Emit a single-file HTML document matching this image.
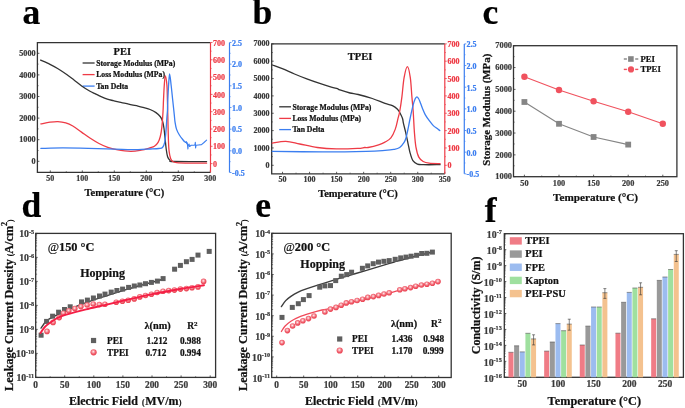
<!DOCTYPE html>
<html><head><meta charset="utf-8"><style>
html,body{margin:0;padding:0;background:#fff;width:685px;height:408px;overflow:hidden;}
svg{display:block;filter:blur(0.35px);}
text{font-family:"Liberation Serif",serif;font-weight:bold;}
</style></head><body>
<svg width="685" height="408" viewBox="0 0 685 408">
<defs><radialGradient id="sph" cx="0.45" cy="0.4" r="0.6"><stop offset="0" stop-color="#fff2f2"/><stop offset="0.3" stop-color="#f7a2aa"/><stop offset="0.65" stop-color="#f05a68"/><stop offset="1" stop-color="#e8404f"/></radialGradient></defs>
<rect width="685" height="408" fill="#fff"/>
<text x="22.60" y="24.40" font-size="35.5" text-anchor="start" fill="#000" stroke="#000" stroke-width="0.22" >a</text>
<text x="252.60" y="24.40" font-size="35.5" text-anchor="start" fill="#000" stroke="#000" stroke-width="0.22" >b</text>
<text x="482.50" y="24.40" font-size="35.5" text-anchor="start" fill="#000" stroke="#000" stroke-width="0.22" >c</text>
<text x="21.50" y="216.90" font-size="35.5" text-anchor="start" fill="#000" stroke="#000" stroke-width="0.22" >d</text>
<text x="255.30" y="217.30" font-size="35.5" text-anchor="start" fill="#000" stroke="#000" stroke-width="0.22" >e</text>
<text x="484.80" y="221.70" font-size="35.5" text-anchor="start" fill="#000" stroke="#000" stroke-width="0.22" >f</text>
<path d="M210.50,42.60 H37.40 V172.40 H210.50" fill="none" stroke="#333" stroke-width="1.3" stroke-linejoin="miter"/>
<line x1="37.40" y1="161.30" x2="39.40" y2="161.30" stroke="#333" stroke-width="0.8" />
<text x="35.60" y="163.98" font-size="8.2" text-anchor="end" fill="#3a3a3a" stroke="#3a3a3a" stroke-width="0.22" >0</text>
<line x1="37.40" y1="139.70" x2="39.40" y2="139.70" stroke="#333" stroke-width="0.8" />
<text x="35.60" y="142.38" font-size="8.2" text-anchor="end" fill="#3a3a3a" stroke="#3a3a3a" stroke-width="0.22" >1000</text>
<line x1="37.40" y1="118.10" x2="39.40" y2="118.10" stroke="#333" stroke-width="0.8" />
<text x="35.60" y="120.78" font-size="8.2" text-anchor="end" fill="#3a3a3a" stroke="#3a3a3a" stroke-width="0.22" >2000</text>
<line x1="37.40" y1="96.50" x2="39.40" y2="96.50" stroke="#333" stroke-width="0.8" />
<text x="35.60" y="99.18" font-size="8.2" text-anchor="end" fill="#3a3a3a" stroke="#3a3a3a" stroke-width="0.22" >3000</text>
<line x1="37.40" y1="74.90" x2="39.40" y2="74.90" stroke="#333" stroke-width="0.8" />
<text x="35.60" y="77.58" font-size="8.2" text-anchor="end" fill="#3a3a3a" stroke="#3a3a3a" stroke-width="0.22" >4000</text>
<line x1="37.40" y1="53.30" x2="39.40" y2="53.30" stroke="#333" stroke-width="0.8" />
<text x="35.60" y="55.98" font-size="8.2" text-anchor="end" fill="#3a3a3a" stroke="#3a3a3a" stroke-width="0.22" >5000</text>
<line x1="37.40" y1="150.50" x2="38.60" y2="150.50" stroke="#333" stroke-width="0.6" />
<line x1="37.40" y1="128.90" x2="38.60" y2="128.90" stroke="#333" stroke-width="0.6" />
<line x1="37.40" y1="107.30" x2="38.60" y2="107.30" stroke="#333" stroke-width="0.6" />
<line x1="37.40" y1="85.70" x2="38.60" y2="85.70" stroke="#333" stroke-width="0.6" />
<line x1="37.40" y1="64.10" x2="38.60" y2="64.10" stroke="#333" stroke-width="0.6" />
<line x1="50.30" y1="172.40" x2="50.30" y2="170.40" stroke="#333" stroke-width="0.8" />
<text x="50.30" y="181.20" font-size="8" text-anchor="middle" fill="#3a3a3a" stroke="#3a3a3a" stroke-width="0.22" >50</text>
<line x1="82.30" y1="172.40" x2="82.30" y2="170.40" stroke="#333" stroke-width="0.8" />
<text x="82.30" y="181.20" font-size="8" text-anchor="middle" fill="#3a3a3a" stroke="#3a3a3a" stroke-width="0.22" >100</text>
<line x1="114.30" y1="172.40" x2="114.30" y2="170.40" stroke="#333" stroke-width="0.8" />
<text x="114.30" y="181.20" font-size="8" text-anchor="middle" fill="#3a3a3a" stroke="#3a3a3a" stroke-width="0.22" >150</text>
<line x1="146.30" y1="172.40" x2="146.30" y2="170.40" stroke="#333" stroke-width="0.8" />
<text x="146.30" y="181.20" font-size="8" text-anchor="middle" fill="#3a3a3a" stroke="#3a3a3a" stroke-width="0.22" >200</text>
<line x1="178.30" y1="172.40" x2="178.30" y2="170.40" stroke="#333" stroke-width="0.8" />
<text x="178.30" y="181.20" font-size="8" text-anchor="middle" fill="#3a3a3a" stroke="#3a3a3a" stroke-width="0.22" >250</text>
<line x1="210.30" y1="172.40" x2="210.30" y2="170.40" stroke="#333" stroke-width="0.8" />
<text x="210.30" y="181.20" font-size="8" text-anchor="middle" fill="#3a3a3a" stroke="#3a3a3a" stroke-width="0.22" >300</text>
<line x1="66.30" y1="172.40" x2="66.30" y2="171.20" stroke="#333" stroke-width="0.6" />
<line x1="98.30" y1="172.40" x2="98.30" y2="171.20" stroke="#333" stroke-width="0.6" />
<line x1="130.30" y1="172.40" x2="130.30" y2="171.20" stroke="#333" stroke-width="0.6" />
<line x1="162.30" y1="172.40" x2="162.30" y2="171.20" stroke="#333" stroke-width="0.6" />
<line x1="194.30" y1="172.40" x2="194.30" y2="171.20" stroke="#333" stroke-width="0.6" />
<line x1="210.50" y1="42.60" x2="210.50" y2="172.40" stroke="#ee3b46" stroke-width="1.2" />
<line x1="210.50" y1="163.60" x2="212.50" y2="163.60" stroke="#ee3b46" stroke-width="0.8" />
<text x="213.00" y="166.72" font-size="8" text-anchor="start" fill="#ee3b46" stroke="#ee3b46" stroke-width="0.22" >0</text>
<line x1="210.50" y1="154.95" x2="211.70" y2="154.95" stroke="#ee3b46" stroke-width="0.6" />
<line x1="210.50" y1="146.30" x2="212.50" y2="146.30" stroke="#ee3b46" stroke-width="0.8" />
<text x="213.00" y="149.42" font-size="8" text-anchor="start" fill="#ee3b46" stroke="#ee3b46" stroke-width="0.22" >100</text>
<line x1="210.50" y1="137.65" x2="211.70" y2="137.65" stroke="#ee3b46" stroke-width="0.6" />
<line x1="210.50" y1="129.00" x2="212.50" y2="129.00" stroke="#ee3b46" stroke-width="0.8" />
<text x="213.00" y="132.12" font-size="8" text-anchor="start" fill="#ee3b46" stroke="#ee3b46" stroke-width="0.22" >200</text>
<line x1="210.50" y1="120.35" x2="211.70" y2="120.35" stroke="#ee3b46" stroke-width="0.6" />
<line x1="210.50" y1="111.70" x2="212.50" y2="111.70" stroke="#ee3b46" stroke-width="0.8" />
<text x="213.00" y="114.82" font-size="8" text-anchor="start" fill="#ee3b46" stroke="#ee3b46" stroke-width="0.22" >300</text>
<line x1="210.50" y1="103.05" x2="211.70" y2="103.05" stroke="#ee3b46" stroke-width="0.6" />
<line x1="210.50" y1="94.40" x2="212.50" y2="94.40" stroke="#ee3b46" stroke-width="0.8" />
<text x="213.00" y="97.52" font-size="8" text-anchor="start" fill="#ee3b46" stroke="#ee3b46" stroke-width="0.22" >400</text>
<line x1="210.50" y1="85.75" x2="211.70" y2="85.75" stroke="#ee3b46" stroke-width="0.6" />
<line x1="210.50" y1="77.10" x2="212.50" y2="77.10" stroke="#ee3b46" stroke-width="0.8" />
<text x="213.00" y="80.22" font-size="8" text-anchor="start" fill="#ee3b46" stroke="#ee3b46" stroke-width="0.22" >500</text>
<line x1="210.50" y1="68.45" x2="211.70" y2="68.45" stroke="#ee3b46" stroke-width="0.6" />
<line x1="210.50" y1="59.80" x2="212.50" y2="59.80" stroke="#ee3b46" stroke-width="0.8" />
<text x="213.00" y="62.92" font-size="8" text-anchor="start" fill="#ee3b46" stroke="#ee3b46" stroke-width="0.22" >600</text>
<line x1="210.50" y1="51.15" x2="211.70" y2="51.15" stroke="#ee3b46" stroke-width="0.6" />
<line x1="210.50" y1="42.50" x2="212.50" y2="42.50" stroke="#ee3b46" stroke-width="0.8" />
<text x="213.00" y="45.62" font-size="8" text-anchor="start" fill="#ee3b46" stroke="#ee3b46" stroke-width="0.22" >700</text>
<line x1="229.50" y1="42.60" x2="229.50" y2="172.40" stroke="#3b7ef0" stroke-width="1.2" />
<line x1="229.50" y1="172.50" x2="231.50" y2="172.50" stroke="#3b7ef0" stroke-width="0.8" />
<text x="232.00" y="175.62" font-size="8" text-anchor="start" fill="#3b7ef0" stroke="#3b7ef0" stroke-width="0.22" >-0.5</text>
<line x1="229.50" y1="161.67" x2="230.70" y2="161.67" stroke="#3b7ef0" stroke-width="0.6" />
<line x1="229.50" y1="150.83" x2="231.50" y2="150.83" stroke="#3b7ef0" stroke-width="0.8" />
<text x="232.00" y="153.95" font-size="8" text-anchor="start" fill="#3b7ef0" stroke="#3b7ef0" stroke-width="0.22" >0.0</text>
<line x1="229.50" y1="140.00" x2="230.70" y2="140.00" stroke="#3b7ef0" stroke-width="0.6" />
<line x1="229.50" y1="129.16" x2="231.50" y2="129.16" stroke="#3b7ef0" stroke-width="0.8" />
<text x="232.00" y="132.28" font-size="8" text-anchor="start" fill="#3b7ef0" stroke="#3b7ef0" stroke-width="0.22" >0.5</text>
<line x1="229.50" y1="118.33" x2="230.70" y2="118.33" stroke="#3b7ef0" stroke-width="0.6" />
<line x1="229.50" y1="107.49" x2="231.50" y2="107.49" stroke="#3b7ef0" stroke-width="0.8" />
<text x="232.00" y="110.61" font-size="8" text-anchor="start" fill="#3b7ef0" stroke="#3b7ef0" stroke-width="0.22" >1.0</text>
<line x1="229.50" y1="96.66" x2="230.70" y2="96.66" stroke="#3b7ef0" stroke-width="0.6" />
<line x1="229.50" y1="85.82" x2="231.50" y2="85.82" stroke="#3b7ef0" stroke-width="0.8" />
<text x="232.00" y="88.94" font-size="8" text-anchor="start" fill="#3b7ef0" stroke="#3b7ef0" stroke-width="0.22" >1.5</text>
<line x1="229.50" y1="74.99" x2="230.70" y2="74.99" stroke="#3b7ef0" stroke-width="0.6" />
<line x1="229.50" y1="64.15" x2="231.50" y2="64.15" stroke="#3b7ef0" stroke-width="0.8" />
<text x="232.00" y="67.27" font-size="8" text-anchor="start" fill="#3b7ef0" stroke="#3b7ef0" stroke-width="0.22" >2.0</text>
<line x1="229.50" y1="53.32" x2="230.70" y2="53.32" stroke="#3b7ef0" stroke-width="0.6" />
<line x1="229.50" y1="42.48" x2="231.50" y2="42.48" stroke="#3b7ef0" stroke-width="0.8" />
<text x="232.00" y="45.60" font-size="8" text-anchor="start" fill="#3b7ef0" stroke="#3b7ef0" stroke-width="0.22" >2.5</text>
<text x="113.60" y="54.60" font-size="10.5" text-anchor="start" fill="#111" stroke="#111" stroke-width="0.22" >PEI</text>
<line x1="82.60" y1="63.00" x2="94.60" y2="63.00" stroke="#333" stroke-width="1.3" />
<text x="96.20" y="65.70" font-size="7.7" text-anchor="start" fill="#111" stroke="#111" stroke-width="0.22" >Storage Modulus (MPa)</text>
<line x1="82.60" y1="74.60" x2="94.60" y2="74.60" stroke="#ee3b46" stroke-width="1.3" />
<text x="96.20" y="77.30" font-size="7.7" text-anchor="start" fill="#111" stroke="#111" stroke-width="0.22" >Loss Modulus (MPa)</text>
<line x1="82.60" y1="86.10" x2="94.60" y2="86.10" stroke="#3b7ef0" stroke-width="1.3" />
<text x="96.20" y="88.80" font-size="7.7" text-anchor="start" fill="#111" stroke="#111" stroke-width="0.22" >Tan Delta</text>
<text x="124.40" y="196.00" font-size="10.5" text-anchor="middle" fill="#111" stroke="#111" stroke-width="0.22" >Temperature (°C)</text>
<path d="M40.60,60.10 C42.17,60.80 47.10,62.87 50.00,64.30 C52.90,65.73 55.22,67.00 58.00,68.70 C60.78,70.40 64.03,72.62 66.70,74.50 C69.37,76.38 71.45,78.05 74.00,80.00 C76.55,81.95 79.33,84.33 82.00,86.20 C84.67,88.07 87.83,89.97 90.00,91.20 C92.17,92.43 93.15,92.70 95.00,93.60 C96.85,94.50 99.05,95.68 101.10,96.60 C103.15,97.52 105.25,98.42 107.30,99.10 C109.35,99.78 111.37,100.18 113.40,100.70 C115.43,101.22 117.47,101.75 119.50,102.20 C121.53,102.65 123.55,102.95 125.60,103.40 C127.65,103.85 129.75,104.45 131.80,104.90 C133.85,105.35 135.87,105.63 137.90,106.10 C139.93,106.57 141.97,107.13 144.00,107.70 C146.03,108.27 148.10,108.68 150.10,109.50 C152.10,110.32 154.32,111.43 156.00,112.60 C157.68,113.77 159.12,115.10 160.20,116.50 C161.28,117.90 161.87,119.00 162.50,121.00 C163.13,123.00 163.57,125.58 164.00,128.50 C164.43,131.42 164.73,135.08 165.10,138.50 C165.47,141.92 165.78,145.95 166.20,149.00 C166.62,152.05 166.98,154.92 167.60,156.80 C168.22,158.68 168.92,159.52 169.90,160.30 C170.88,161.08 167.38,161.28 173.50,161.50 C179.62,161.72 201.08,161.58 206.60,161.60" fill="none" stroke="#333" stroke-width="1.3" stroke-linejoin="round" stroke-linecap="round" />
<path d="M40.90,123.90 C42.42,123.62 47.17,122.58 50.00,122.20 C52.83,121.82 55.27,121.48 57.90,121.60 C60.53,121.72 63.32,122.17 65.80,122.90 C68.28,123.63 70.18,124.47 72.80,126.00 C75.42,127.53 78.58,130.05 81.50,132.10 C84.42,134.15 87.38,136.40 90.30,138.30 C93.22,140.20 96.08,141.98 99.00,143.50 C101.92,145.02 104.87,146.37 107.80,147.40 C110.73,148.43 112.80,149.03 116.60,149.70 C120.40,150.37 126.52,151.32 130.60,151.40 C134.68,151.48 137.90,150.78 141.10,150.20 C144.30,149.62 147.58,148.55 149.80,147.90 C152.02,147.25 153.02,147.22 154.40,146.30 C155.78,145.38 157.12,144.03 158.10,142.40 C159.08,140.77 159.68,138.97 160.30,136.50 C160.92,134.03 161.35,131.68 161.80,127.60 C162.25,123.52 162.72,116.60 163.00,112.00 C163.28,107.40 163.28,104.50 163.50,100.00 C163.72,95.50 164.00,89.03 164.30,85.00 C164.60,80.97 164.87,75.80 165.30,75.80 C165.73,75.80 166.55,80.97 166.90,85.00 C167.25,89.03 167.25,95.00 167.40,100.00 C167.55,105.00 167.63,108.43 167.80,115.00 C167.97,121.57 168.18,133.37 168.40,139.40 C168.62,145.43 168.73,148.02 169.10,151.20 C169.47,154.38 169.98,156.78 170.60,158.50 C171.22,160.22 171.82,160.82 172.80,161.50 C173.78,162.18 173.63,162.33 176.50,162.60 C179.37,162.87 184.98,163.00 190.00,163.10 C195.02,163.20 203.83,163.18 206.60,163.20" fill="none" stroke="#ee3b46" stroke-width="1.3" stroke-linejoin="round" stroke-linecap="round" />
<path d="M40.90,148.40 C44.47,148.32 54.37,147.92 62.30,147.90 C70.23,147.88 79.75,148.10 88.50,148.30 C97.25,148.50 107.50,148.87 114.80,149.10 C122.10,149.33 126.43,149.72 132.30,149.70 C138.17,149.68 145.58,149.20 150.00,149.00 C154.42,148.80 156.72,148.75 158.80,148.50 C160.88,148.25 161.52,148.52 162.50,147.50 C163.48,146.48 164.13,144.98 164.70,142.40 C165.27,139.82 165.53,136.17 165.90,132.00 C166.27,127.83 166.63,121.07 166.90,117.40 C167.17,113.73 167.35,112.90 167.50,110.00 C167.65,107.10 167.62,104.17 167.80,100.00 C167.98,95.83 168.30,89.37 168.60,85.00 C168.90,80.63 169.18,73.80 169.60,73.80 C170.02,73.80 170.58,80.63 171.10,85.00 C171.62,89.37 172.17,95.00 172.70,100.00 C173.23,105.00 173.92,111.37 174.30,115.00 C174.68,118.63 174.63,119.45 175.00,121.80 C175.37,124.15 175.77,126.90 176.50,129.10 C177.23,131.30 178.18,133.03 179.40,135.00 C180.62,136.97 183.07,139.92 183.80,140.90" fill="none" stroke="#3b7ef0" stroke-width="1.3" stroke-linejoin="round" stroke-linecap="round" />
<path d="M183.80,140.90 L185.50,142.50 L186.20,141.50 L186.80,143.80 L187.30,142.80 L187.90,149.00 L188.20,145.30 L189.00,144.00 L189.60,146.50 L191.20,145.30 L194.10,145.30 L195.00,144.80 L195.30,142.40 L195.60,148.00 L196.00,145.30 L198.50,145.00 L201.50,144.60 L204.00,142.50 L206.60,140.10" fill="none" stroke="#3b7ef0" stroke-width="1.1" stroke-linejoin="round" stroke-linecap="round" />
<path d="M444.80,43.90 H271.70 V173.80 H444.80" fill="none" stroke="#333" stroke-width="1.3" stroke-linejoin="miter"/>
<line x1="271.70" y1="165.30" x2="273.70" y2="165.30" stroke="#333" stroke-width="0.8" />
<text x="269.60" y="167.92" font-size="8" text-anchor="end" fill="#3a3a3a" stroke="#3a3a3a" stroke-width="0.22" >0</text>
<line x1="271.70" y1="156.62" x2="272.90" y2="156.62" stroke="#333" stroke-width="0.6" />
<line x1="271.70" y1="147.95" x2="273.70" y2="147.95" stroke="#333" stroke-width="0.8" />
<text x="269.60" y="150.57" font-size="8" text-anchor="end" fill="#3a3a3a" stroke="#3a3a3a" stroke-width="0.22" >1000</text>
<line x1="271.70" y1="139.28" x2="272.90" y2="139.28" stroke="#333" stroke-width="0.6" />
<line x1="271.70" y1="130.60" x2="273.70" y2="130.60" stroke="#333" stroke-width="0.8" />
<text x="269.60" y="133.22" font-size="8" text-anchor="end" fill="#3a3a3a" stroke="#3a3a3a" stroke-width="0.22" >2000</text>
<line x1="271.70" y1="121.93" x2="272.90" y2="121.93" stroke="#333" stroke-width="0.6" />
<line x1="271.70" y1="113.25" x2="273.70" y2="113.25" stroke="#333" stroke-width="0.8" />
<text x="269.60" y="115.87" font-size="8" text-anchor="end" fill="#3a3a3a" stroke="#3a3a3a" stroke-width="0.22" >3000</text>
<line x1="271.70" y1="104.58" x2="272.90" y2="104.58" stroke="#333" stroke-width="0.6" />
<line x1="271.70" y1="95.90" x2="273.70" y2="95.90" stroke="#333" stroke-width="0.8" />
<text x="269.60" y="98.52" font-size="8" text-anchor="end" fill="#3a3a3a" stroke="#3a3a3a" stroke-width="0.22" >4000</text>
<line x1="271.70" y1="87.23" x2="272.90" y2="87.23" stroke="#333" stroke-width="0.6" />
<line x1="271.70" y1="78.55" x2="273.70" y2="78.55" stroke="#333" stroke-width="0.8" />
<text x="269.60" y="81.17" font-size="8" text-anchor="end" fill="#3a3a3a" stroke="#3a3a3a" stroke-width="0.22" >5000</text>
<line x1="271.70" y1="69.88" x2="272.90" y2="69.88" stroke="#333" stroke-width="0.6" />
<line x1="271.70" y1="61.20" x2="273.70" y2="61.20" stroke="#333" stroke-width="0.8" />
<text x="269.60" y="63.82" font-size="8" text-anchor="end" fill="#3a3a3a" stroke="#3a3a3a" stroke-width="0.22" >6000</text>
<line x1="271.70" y1="52.53" x2="272.90" y2="52.53" stroke="#333" stroke-width="0.6" />
<line x1="271.70" y1="43.85" x2="273.70" y2="43.85" stroke="#333" stroke-width="0.8" />
<text x="269.60" y="46.47" font-size="8" text-anchor="end" fill="#3a3a3a" stroke="#3a3a3a" stroke-width="0.22" >7000</text>
<line x1="282.52" y1="173.80" x2="282.52" y2="171.80" stroke="#333" stroke-width="0.8" />
<text x="282.52" y="182.00" font-size="8" text-anchor="middle" fill="#3a3a3a" stroke="#3a3a3a" stroke-width="0.22" >50</text>
<line x1="309.56" y1="173.80" x2="309.56" y2="171.80" stroke="#333" stroke-width="0.8" />
<text x="309.56" y="182.00" font-size="8" text-anchor="middle" fill="#3a3a3a" stroke="#3a3a3a" stroke-width="0.22" >100</text>
<line x1="336.61" y1="173.80" x2="336.61" y2="171.80" stroke="#333" stroke-width="0.8" />
<text x="336.61" y="182.00" font-size="8" text-anchor="middle" fill="#3a3a3a" stroke="#3a3a3a" stroke-width="0.22" >150</text>
<line x1="363.65" y1="173.80" x2="363.65" y2="171.80" stroke="#333" stroke-width="0.8" />
<text x="363.65" y="182.00" font-size="8" text-anchor="middle" fill="#3a3a3a" stroke="#3a3a3a" stroke-width="0.22" >200</text>
<line x1="390.70" y1="173.80" x2="390.70" y2="171.80" stroke="#333" stroke-width="0.8" />
<text x="390.70" y="182.00" font-size="8" text-anchor="middle" fill="#3a3a3a" stroke="#3a3a3a" stroke-width="0.22" >250</text>
<line x1="417.74" y1="173.80" x2="417.74" y2="171.80" stroke="#333" stroke-width="0.8" />
<text x="417.74" y="182.00" font-size="8" text-anchor="middle" fill="#3a3a3a" stroke="#3a3a3a" stroke-width="0.22" >300</text>
<line x1="444.79" y1="173.80" x2="444.79" y2="171.80" stroke="#333" stroke-width="0.8" />
<text x="444.79" y="182.00" font-size="8" text-anchor="middle" fill="#3a3a3a" stroke="#3a3a3a" stroke-width="0.22" >350</text>
<line x1="296.04" y1="173.80" x2="296.04" y2="172.60" stroke="#333" stroke-width="0.6" />
<line x1="323.09" y1="173.80" x2="323.09" y2="172.60" stroke="#333" stroke-width="0.6" />
<line x1="350.13" y1="173.80" x2="350.13" y2="172.60" stroke="#333" stroke-width="0.6" />
<line x1="377.18" y1="173.80" x2="377.18" y2="172.60" stroke="#333" stroke-width="0.6" />
<line x1="404.22" y1="173.80" x2="404.22" y2="172.60" stroke="#333" stroke-width="0.6" />
<line x1="431.27" y1="173.80" x2="431.27" y2="172.60" stroke="#333" stroke-width="0.6" />
<line x1="444.80" y1="43.90" x2="444.80" y2="173.80" stroke="#ee3b46" stroke-width="1.2" />
<line x1="444.80" y1="165.30" x2="446.80" y2="165.30" stroke="#ee3b46" stroke-width="0.8" />
<text x="447.40" y="168.42" font-size="8" text-anchor="start" fill="#ee3b46" stroke="#ee3b46" stroke-width="0.22" >0</text>
<line x1="444.80" y1="156.62" x2="446.00" y2="156.62" stroke="#ee3b46" stroke-width="0.6" />
<line x1="444.80" y1="147.95" x2="446.80" y2="147.95" stroke="#ee3b46" stroke-width="0.8" />
<text x="447.40" y="151.07" font-size="8" text-anchor="start" fill="#ee3b46" stroke="#ee3b46" stroke-width="0.22" >100</text>
<line x1="444.80" y1="139.28" x2="446.00" y2="139.28" stroke="#ee3b46" stroke-width="0.6" />
<line x1="444.80" y1="130.60" x2="446.80" y2="130.60" stroke="#ee3b46" stroke-width="0.8" />
<text x="447.40" y="133.72" font-size="8" text-anchor="start" fill="#ee3b46" stroke="#ee3b46" stroke-width="0.22" >200</text>
<line x1="444.80" y1="121.93" x2="446.00" y2="121.93" stroke="#ee3b46" stroke-width="0.6" />
<line x1="444.80" y1="113.25" x2="446.80" y2="113.25" stroke="#ee3b46" stroke-width="0.8" />
<text x="447.40" y="116.37" font-size="8" text-anchor="start" fill="#ee3b46" stroke="#ee3b46" stroke-width="0.22" >300</text>
<line x1="444.80" y1="104.58" x2="446.00" y2="104.58" stroke="#ee3b46" stroke-width="0.6" />
<line x1="444.80" y1="95.90" x2="446.80" y2="95.90" stroke="#ee3b46" stroke-width="0.8" />
<text x="447.40" y="99.02" font-size="8" text-anchor="start" fill="#ee3b46" stroke="#ee3b46" stroke-width="0.22" >400</text>
<line x1="444.80" y1="87.23" x2="446.00" y2="87.23" stroke="#ee3b46" stroke-width="0.6" />
<line x1="444.80" y1="78.55" x2="446.80" y2="78.55" stroke="#ee3b46" stroke-width="0.8" />
<text x="447.40" y="81.67" font-size="8" text-anchor="start" fill="#ee3b46" stroke="#ee3b46" stroke-width="0.22" >500</text>
<line x1="444.80" y1="69.88" x2="446.00" y2="69.88" stroke="#ee3b46" stroke-width="0.6" />
<line x1="444.80" y1="61.20" x2="446.80" y2="61.20" stroke="#ee3b46" stroke-width="0.8" />
<text x="447.40" y="64.32" font-size="8" text-anchor="start" fill="#ee3b46" stroke="#ee3b46" stroke-width="0.22" >600</text>
<line x1="444.80" y1="52.53" x2="446.00" y2="52.53" stroke="#ee3b46" stroke-width="0.6" />
<line x1="444.80" y1="43.85" x2="446.80" y2="43.85" stroke="#ee3b46" stroke-width="0.8" />
<text x="447.40" y="46.97" font-size="8" text-anchor="start" fill="#ee3b46" stroke="#ee3b46" stroke-width="0.22" >700</text>
<line x1="464.30" y1="43.90" x2="464.30" y2="173.80" stroke="#3b7ef0" stroke-width="1.2" />
<line x1="464.30" y1="173.80" x2="466.30" y2="173.80" stroke="#3b7ef0" stroke-width="0.8" />
<text x="466.60" y="177.22" font-size="8" text-anchor="start" fill="#3b7ef0" stroke="#3b7ef0" stroke-width="0.22" >-0.5</text>
<line x1="464.30" y1="162.97" x2="465.50" y2="162.97" stroke="#3b7ef0" stroke-width="0.6" />
<line x1="464.30" y1="152.15" x2="466.30" y2="152.15" stroke="#3b7ef0" stroke-width="0.8" />
<text x="466.60" y="155.57" font-size="8" text-anchor="start" fill="#3b7ef0" stroke="#3b7ef0" stroke-width="0.22" >0.0</text>
<line x1="464.30" y1="141.32" x2="465.50" y2="141.32" stroke="#3b7ef0" stroke-width="0.6" />
<line x1="464.30" y1="130.50" x2="466.30" y2="130.50" stroke="#3b7ef0" stroke-width="0.8" />
<text x="466.60" y="133.92" font-size="8" text-anchor="start" fill="#3b7ef0" stroke="#3b7ef0" stroke-width="0.22" >0.5</text>
<line x1="464.30" y1="119.67" x2="465.50" y2="119.67" stroke="#3b7ef0" stroke-width="0.6" />
<line x1="464.30" y1="108.85" x2="466.30" y2="108.85" stroke="#3b7ef0" stroke-width="0.8" />
<text x="466.60" y="112.27" font-size="8" text-anchor="start" fill="#3b7ef0" stroke="#3b7ef0" stroke-width="0.22" >1.0</text>
<line x1="464.30" y1="98.02" x2="465.50" y2="98.02" stroke="#3b7ef0" stroke-width="0.6" />
<line x1="464.30" y1="87.20" x2="466.30" y2="87.20" stroke="#3b7ef0" stroke-width="0.8" />
<text x="466.60" y="90.62" font-size="8" text-anchor="start" fill="#3b7ef0" stroke="#3b7ef0" stroke-width="0.22" >1.5</text>
<line x1="464.30" y1="76.37" x2="465.50" y2="76.37" stroke="#3b7ef0" stroke-width="0.6" />
<line x1="464.30" y1="65.55" x2="466.30" y2="65.55" stroke="#3b7ef0" stroke-width="0.8" />
<text x="466.60" y="68.97" font-size="8" text-anchor="start" fill="#3b7ef0" stroke="#3b7ef0" stroke-width="0.22" >2.0</text>
<line x1="464.30" y1="54.72" x2="465.50" y2="54.72" stroke="#3b7ef0" stroke-width="0.6" />
<line x1="464.30" y1="43.90" x2="466.30" y2="43.90" stroke="#3b7ef0" stroke-width="0.8" />
<text x="466.60" y="47.32" font-size="8" text-anchor="start" fill="#3b7ef0" stroke="#3b7ef0" stroke-width="0.22" >2.5</text>
<text x="347.80" y="60.20" font-size="10.5" text-anchor="start" fill="#111" stroke="#111" stroke-width="0.22" >TPEI</text>
<line x1="279.20" y1="106.80" x2="291.00" y2="106.80" stroke="#333" stroke-width="1.3" />
<text x="292.40" y="109.50" font-size="7.7" text-anchor="start" fill="#111" stroke="#111" stroke-width="0.22" >Storage Modulus (MPa)</text>
<line x1="279.20" y1="118.40" x2="291.00" y2="118.40" stroke="#ee3b46" stroke-width="1.3" />
<text x="292.40" y="121.10" font-size="7.7" text-anchor="start" fill="#111" stroke="#111" stroke-width="0.22" >Loss Modulus (MPa)</text>
<line x1="279.20" y1="129.60" x2="291.00" y2="129.60" stroke="#3b7ef0" stroke-width="1.3" />
<text x="292.40" y="132.30" font-size="7.7" text-anchor="start" fill="#111" stroke="#111" stroke-width="0.22" >Tan Delta</text>
<text x="358.00" y="197.00" font-size="10.5" text-anchor="middle" fill="#111" stroke="#111" stroke-width="0.22" >Temperature (°C)</text>
<path d="M272.30,65.00 C273.97,65.62 278.60,67.20 282.30,68.70 C286.00,70.20 290.42,72.30 294.50,74.00 C298.58,75.70 302.72,77.37 306.80,78.90 C310.88,80.43 314.92,81.83 319.00,83.20 C323.08,84.57 328.23,86.18 331.30,87.10 C334.37,88.02 335.97,88.23 337.40,88.70 C338.83,89.17 337.80,89.18 339.90,89.90 C342.00,90.62 346.95,92.23 350.00,93.00 C353.05,93.77 354.48,93.58 358.20,94.50 C361.92,95.42 367.83,97.02 372.30,98.50 C376.77,99.98 381.65,102.22 385.00,103.40 C388.35,104.58 390.32,104.62 392.40,105.60 C394.48,106.58 396.17,107.95 397.50,109.30 C398.83,110.65 399.55,112.12 400.40,113.70 C401.25,115.28 402.10,117.22 402.60,118.80 C403.10,120.38 402.90,120.98 403.40,123.20 C403.90,125.42 404.87,128.90 405.60,132.10 C406.33,135.30 407.07,138.98 407.80,142.40 C408.53,145.82 409.15,149.55 410.00,152.60 C410.85,155.65 411.67,158.78 412.90,160.70 C414.13,162.62 415.68,163.43 417.40,164.10 C419.12,164.77 419.42,164.60 423.20,164.70 C426.98,164.80 437.28,164.70 440.10,164.70" fill="none" stroke="#333" stroke-width="1.3" stroke-linejoin="round" stroke-linecap="round" />
<path d="M272.30,143.10 C274.55,142.82 281.22,141.25 285.80,141.40 C290.38,141.55 294.55,142.98 299.80,144.00 C305.05,145.02 311.18,146.68 317.30,147.50 C323.42,148.32 329.78,148.75 336.50,148.90 C343.22,149.05 352.92,148.63 357.60,148.40 C362.28,148.17 362.85,147.65 364.60,147.50 C366.35,147.35 365.77,147.93 368.10,147.50 C370.43,147.07 375.78,145.80 378.60,144.90 C381.42,144.00 382.95,143.27 385.00,142.10 C387.05,140.93 389.18,140.07 390.90,137.90 C392.62,135.73 394.13,132.28 395.30,129.10 C396.47,125.92 397.17,121.73 397.90,118.80 C398.63,115.87 399.03,115.17 399.70,111.50 C400.37,107.83 401.17,102.45 401.90,96.80 C402.63,91.15 403.18,82.63 404.10,77.60 C405.02,72.57 406.37,66.60 407.40,66.60 C408.43,66.60 409.55,72.57 410.30,77.60 C411.05,82.63 411.42,91.15 411.90,96.80 C412.38,102.45 412.78,105.62 413.20,111.50 C413.62,117.38 413.95,126.22 414.40,132.10 C414.85,137.98 415.17,142.63 415.90,146.80 C416.63,150.97 417.58,154.65 418.80,157.10 C420.02,159.55 421.48,160.48 423.20,161.50 C424.92,162.52 426.28,162.83 429.10,163.20 C431.92,163.57 438.27,163.62 440.10,163.70" fill="none" stroke="#ee3b46" stroke-width="1.3" stroke-linejoin="round" stroke-linecap="round" />
<path d="M272.30,151.40 C280.67,151.48 306.83,151.90 322.50,151.90 C338.17,151.90 355.88,151.65 366.30,151.40 C376.72,151.15 380.42,150.73 385.00,150.40 C389.58,150.07 391.35,149.88 393.80,149.40 C396.25,148.92 397.98,148.67 399.70,147.50 C401.42,146.33 403.05,143.98 404.10,142.40 C405.15,140.82 405.40,139.98 406.00,138.00 C406.60,136.02 407.00,133.83 407.70,130.50 C408.40,127.17 409.30,122.22 410.20,118.00 C411.10,113.78 412.27,108.40 413.10,105.20 C413.93,102.00 414.57,100.18 415.20,98.80 C415.83,97.42 416.35,96.95 416.90,96.90 C417.45,96.85 418.02,97.78 418.50,98.50 C418.98,99.22 419.13,99.53 419.80,101.20 C420.47,102.87 421.60,106.27 422.50,108.50 C423.40,110.73 424.07,112.57 425.20,114.60 C426.33,116.63 427.95,118.87 429.30,120.70 C430.65,122.53 431.97,124.28 433.30,125.60 C434.63,126.92 436.22,127.77 437.30,128.60 C438.38,129.43 439.38,130.27 439.80,130.60" fill="none" stroke="#3b7ef0" stroke-width="1.3" stroke-linejoin="round" stroke-linecap="round" />
<rect x="513.50" y="45.70" width="163.40" height="131.00" fill="none" stroke="#333" stroke-width="1.3"/>
<line x1="513.50" y1="176.70" x2="515.50" y2="176.70" stroke="#333" stroke-width="0.8" />
<text x="512.00" y="179.45" font-size="8.4" text-anchor="end" fill="#3a3a3a" stroke="#3a3a3a" stroke-width="0.22" >1000</text>
<line x1="513.50" y1="165.81" x2="514.70" y2="165.81" stroke="#333" stroke-width="0.6" />
<line x1="513.50" y1="154.87" x2="515.50" y2="154.87" stroke="#333" stroke-width="0.8" />
<text x="512.00" y="157.62" font-size="8.4" text-anchor="end" fill="#3a3a3a" stroke="#3a3a3a" stroke-width="0.22" >2000</text>
<line x1="513.50" y1="143.98" x2="514.70" y2="143.98" stroke="#333" stroke-width="0.6" />
<line x1="513.50" y1="133.04" x2="515.50" y2="133.04" stroke="#333" stroke-width="0.8" />
<text x="512.00" y="135.79" font-size="8.4" text-anchor="end" fill="#3a3a3a" stroke="#3a3a3a" stroke-width="0.22" >3000</text>
<line x1="513.50" y1="122.15" x2="514.70" y2="122.15" stroke="#333" stroke-width="0.6" />
<line x1="513.50" y1="111.21" x2="515.50" y2="111.21" stroke="#333" stroke-width="0.8" />
<text x="512.00" y="113.96" font-size="8.4" text-anchor="end" fill="#3a3a3a" stroke="#3a3a3a" stroke-width="0.22" >4000</text>
<line x1="513.50" y1="100.32" x2="514.70" y2="100.32" stroke="#333" stroke-width="0.6" />
<line x1="513.50" y1="89.38" x2="515.50" y2="89.38" stroke="#333" stroke-width="0.8" />
<text x="512.00" y="92.13" font-size="8.4" text-anchor="end" fill="#3a3a3a" stroke="#3a3a3a" stroke-width="0.22" >5000</text>
<line x1="513.50" y1="78.49" x2="514.70" y2="78.49" stroke="#333" stroke-width="0.6" />
<line x1="513.50" y1="67.55" x2="515.50" y2="67.55" stroke="#333" stroke-width="0.8" />
<text x="512.00" y="70.30" font-size="8.4" text-anchor="end" fill="#3a3a3a" stroke="#3a3a3a" stroke-width="0.22" >6000</text>
<line x1="513.50" y1="56.66" x2="514.70" y2="56.66" stroke="#333" stroke-width="0.6" />
<line x1="513.50" y1="45.72" x2="515.50" y2="45.72" stroke="#333" stroke-width="0.8" />
<text x="512.00" y="48.47" font-size="8.4" text-anchor="end" fill="#3a3a3a" stroke="#3a3a3a" stroke-width="0.22" >7000</text>
<line x1="524.40" y1="176.70" x2="524.40" y2="174.70" stroke="#333" stroke-width="0.8" />
<text x="524.40" y="185.80" font-size="8.3" text-anchor="middle" fill="#3a3a3a" stroke="#3a3a3a" stroke-width="0.22" >50</text>
<line x1="559.00" y1="176.70" x2="559.00" y2="174.70" stroke="#333" stroke-width="0.8" />
<text x="559.00" y="185.80" font-size="8.3" text-anchor="middle" fill="#3a3a3a" stroke="#3a3a3a" stroke-width="0.22" >100</text>
<line x1="593.60" y1="176.70" x2="593.60" y2="174.70" stroke="#333" stroke-width="0.8" />
<text x="593.60" y="185.80" font-size="8.3" text-anchor="middle" fill="#3a3a3a" stroke="#3a3a3a" stroke-width="0.22" >150</text>
<line x1="628.20" y1="176.70" x2="628.20" y2="174.70" stroke="#333" stroke-width="0.8" />
<text x="628.20" y="185.80" font-size="8.3" text-anchor="middle" fill="#3a3a3a" stroke="#3a3a3a" stroke-width="0.22" >200</text>
<line x1="662.80" y1="176.70" x2="662.80" y2="174.70" stroke="#333" stroke-width="0.8" />
<text x="662.80" y="185.80" font-size="8.3" text-anchor="middle" fill="#3a3a3a" stroke="#3a3a3a" stroke-width="0.22" >250</text>
<line x1="541.70" y1="176.70" x2="541.70" y2="175.50" stroke="#333" stroke-width="0.6" />
<line x1="576.30" y1="176.70" x2="576.30" y2="175.50" stroke="#333" stroke-width="0.6" />
<line x1="610.90" y1="176.70" x2="610.90" y2="175.50" stroke="#333" stroke-width="0.6" />
<line x1="645.50" y1="176.70" x2="645.50" y2="175.50" stroke="#333" stroke-width="0.6" />
<text x="595.50" y="200.90" font-size="11.2" text-anchor="middle" fill="#111" stroke="#111" stroke-width="0.22" >Temperature (°C)</text>
<text transform="translate(489.7,109.7) rotate(-90)" x="0" y="0" font-size="10.9" text-anchor="middle" fill="#111" stroke="#111" stroke-width="0.22">Storage Modulus (MPa)</text>
<path d="M524.40,102.00 L559.00,123.80 L593.60,137.00 L628.20,144.60" fill="none" stroke="#858585" stroke-width="1.1" stroke-linejoin="round" stroke-linecap="round" />
<path d="M524.40,76.80 L559.00,90.00 L593.60,101.20 L628.20,111.70 L662.80,123.80" fill="none" stroke="#f0525e" stroke-width="1.1" stroke-linejoin="round" stroke-linecap="round" />
<rect x="521.50" y="99.10" width="5.8" height="5.8" fill="#858585"/>
<rect x="556.10" y="120.90" width="5.8" height="5.8" fill="#858585"/>
<rect x="590.70" y="134.10" width="5.8" height="5.8" fill="#858585"/>
<rect x="625.30" y="141.70" width="5.8" height="5.8" fill="#858585"/>
<circle cx="524.40" cy="76.80" r="3.2" fill="#f0525e"/>
<circle cx="559.00" cy="90.00" r="3.2" fill="#f0525e"/>
<circle cx="593.60" cy="101.20" r="3.2" fill="#f0525e"/>
<circle cx="628.20" cy="111.70" r="3.2" fill="#f0525e"/>
<circle cx="662.80" cy="123.80" r="3.2" fill="#f0525e"/>
<line x1="623.80" y1="59.00" x2="626.90" y2="59.00" stroke="#858585" stroke-width="1.4" />
<line x1="635.20" y1="59.00" x2="638.30" y2="59.00" stroke="#858585" stroke-width="1.4" />
<line x1="623.80" y1="69.40" x2="626.90" y2="69.40" stroke="#f0525e" stroke-width="1.4" />
<line x1="635.20" y1="69.40" x2="638.30" y2="69.40" stroke="#f0525e" stroke-width="1.4" />
<rect x="628.1" y="56.2" width="5.6" height="5.6" fill="#858585"/>
<text x="640.50" y="61.60" font-size="8.7" text-anchor="start" fill="#111" stroke="#111" stroke-width="0.22" >PEI</text>
<circle cx="631.0" cy="69.4" r="3.1" fill="#f0525e"/>
<text x="640.50" y="72.00" font-size="8.7" text-anchor="start" fill="#111" stroke="#111" stroke-width="0.22" >TPEI</text>
<rect x="35.70" y="233.40" width="179.90" height="144.00" fill="none" stroke="#333" stroke-width="1.3"/>
<line x1="35.70" y1="233.40" x2="37.70" y2="233.40" stroke="#333" stroke-width="0.8" />
<text x="34.10" y="237.43" font-size="9.8" text-anchor="end" fill="#3a3a3a" stroke="#3a3a3a" stroke-width="0.22">10<tspan font-size="6.2" dy="-3.7">-5</tspan></text>
<line x1="35.70" y1="250.18" x2="37.10" y2="250.18" stroke="#333" stroke-width="0.6" />
<line x1="35.70" y1="245.95" x2="37.10" y2="245.95" stroke="#333" stroke-width="0.6" />
<line x1="35.70" y1="242.95" x2="37.10" y2="242.95" stroke="#333" stroke-width="0.6" />
<line x1="35.70" y1="240.62" x2="37.10" y2="240.62" stroke="#333" stroke-width="0.6" />
<line x1="35.70" y1="238.72" x2="37.10" y2="238.72" stroke="#333" stroke-width="0.6" />
<line x1="35.70" y1="237.12" x2="37.10" y2="237.12" stroke="#333" stroke-width="0.6" />
<line x1="35.70" y1="235.73" x2="37.10" y2="235.73" stroke="#333" stroke-width="0.6" />
<line x1="35.70" y1="234.50" x2="37.10" y2="234.50" stroke="#333" stroke-width="0.6" />
<line x1="35.70" y1="257.40" x2="37.70" y2="257.40" stroke="#333" stroke-width="0.8" />
<text x="34.10" y="261.43" font-size="9.8" text-anchor="end" fill="#3a3a3a" stroke="#3a3a3a" stroke-width="0.22">10<tspan font-size="6.2" dy="-3.7">-6</tspan></text>
<line x1="35.70" y1="274.18" x2="37.10" y2="274.18" stroke="#333" stroke-width="0.6" />
<line x1="35.70" y1="269.95" x2="37.10" y2="269.95" stroke="#333" stroke-width="0.6" />
<line x1="35.70" y1="266.95" x2="37.10" y2="266.95" stroke="#333" stroke-width="0.6" />
<line x1="35.70" y1="264.62" x2="37.10" y2="264.62" stroke="#333" stroke-width="0.6" />
<line x1="35.70" y1="262.72" x2="37.10" y2="262.72" stroke="#333" stroke-width="0.6" />
<line x1="35.70" y1="261.12" x2="37.10" y2="261.12" stroke="#333" stroke-width="0.6" />
<line x1="35.70" y1="259.73" x2="37.10" y2="259.73" stroke="#333" stroke-width="0.6" />
<line x1="35.70" y1="258.50" x2="37.10" y2="258.50" stroke="#333" stroke-width="0.6" />
<line x1="35.70" y1="281.40" x2="37.70" y2="281.40" stroke="#333" stroke-width="0.8" />
<text x="34.10" y="285.43" font-size="9.8" text-anchor="end" fill="#3a3a3a" stroke="#3a3a3a" stroke-width="0.22">10<tspan font-size="6.2" dy="-3.7">-7</tspan></text>
<line x1="35.70" y1="298.18" x2="37.10" y2="298.18" stroke="#333" stroke-width="0.6" />
<line x1="35.70" y1="293.95" x2="37.10" y2="293.95" stroke="#333" stroke-width="0.6" />
<line x1="35.70" y1="290.95" x2="37.10" y2="290.95" stroke="#333" stroke-width="0.6" />
<line x1="35.70" y1="288.62" x2="37.10" y2="288.62" stroke="#333" stroke-width="0.6" />
<line x1="35.70" y1="286.72" x2="37.10" y2="286.72" stroke="#333" stroke-width="0.6" />
<line x1="35.70" y1="285.12" x2="37.10" y2="285.12" stroke="#333" stroke-width="0.6" />
<line x1="35.70" y1="283.73" x2="37.10" y2="283.73" stroke="#333" stroke-width="0.6" />
<line x1="35.70" y1="282.50" x2="37.10" y2="282.50" stroke="#333" stroke-width="0.6" />
<line x1="35.70" y1="305.40" x2="37.70" y2="305.40" stroke="#333" stroke-width="0.8" />
<text x="34.10" y="309.43" font-size="9.8" text-anchor="end" fill="#3a3a3a" stroke="#3a3a3a" stroke-width="0.22">10<tspan font-size="6.2" dy="-3.7">-8</tspan></text>
<line x1="35.70" y1="322.18" x2="37.10" y2="322.18" stroke="#333" stroke-width="0.6" />
<line x1="35.70" y1="317.95" x2="37.10" y2="317.95" stroke="#333" stroke-width="0.6" />
<line x1="35.70" y1="314.95" x2="37.10" y2="314.95" stroke="#333" stroke-width="0.6" />
<line x1="35.70" y1="312.62" x2="37.10" y2="312.62" stroke="#333" stroke-width="0.6" />
<line x1="35.70" y1="310.72" x2="37.10" y2="310.72" stroke="#333" stroke-width="0.6" />
<line x1="35.70" y1="309.12" x2="37.10" y2="309.12" stroke="#333" stroke-width="0.6" />
<line x1="35.70" y1="307.73" x2="37.10" y2="307.73" stroke="#333" stroke-width="0.6" />
<line x1="35.70" y1="306.50" x2="37.10" y2="306.50" stroke="#333" stroke-width="0.6" />
<line x1="35.70" y1="329.40" x2="37.70" y2="329.40" stroke="#333" stroke-width="0.8" />
<text x="34.10" y="333.43" font-size="9.8" text-anchor="end" fill="#3a3a3a" stroke="#3a3a3a" stroke-width="0.22">10<tspan font-size="6.2" dy="-3.7">-9</tspan></text>
<line x1="35.70" y1="346.18" x2="37.10" y2="346.18" stroke="#333" stroke-width="0.6" />
<line x1="35.70" y1="341.95" x2="37.10" y2="341.95" stroke="#333" stroke-width="0.6" />
<line x1="35.70" y1="338.95" x2="37.10" y2="338.95" stroke="#333" stroke-width="0.6" />
<line x1="35.70" y1="336.62" x2="37.10" y2="336.62" stroke="#333" stroke-width="0.6" />
<line x1="35.70" y1="334.72" x2="37.10" y2="334.72" stroke="#333" stroke-width="0.6" />
<line x1="35.70" y1="333.12" x2="37.10" y2="333.12" stroke="#333" stroke-width="0.6" />
<line x1="35.70" y1="331.73" x2="37.10" y2="331.73" stroke="#333" stroke-width="0.6" />
<line x1="35.70" y1="330.50" x2="37.10" y2="330.50" stroke="#333" stroke-width="0.6" />
<line x1="35.70" y1="353.40" x2="37.70" y2="353.40" stroke="#333" stroke-width="0.8" />
<text x="34.10" y="357.43" font-size="9.8" text-anchor="end" fill="#3a3a3a" stroke="#3a3a3a" stroke-width="0.22">10<tspan font-size="6.2" dy="-3.7">-10</tspan></text>
<line x1="35.70" y1="370.18" x2="37.10" y2="370.18" stroke="#333" stroke-width="0.6" />
<line x1="35.70" y1="365.95" x2="37.10" y2="365.95" stroke="#333" stroke-width="0.6" />
<line x1="35.70" y1="362.95" x2="37.10" y2="362.95" stroke="#333" stroke-width="0.6" />
<line x1="35.70" y1="360.62" x2="37.10" y2="360.62" stroke="#333" stroke-width="0.6" />
<line x1="35.70" y1="358.72" x2="37.10" y2="358.72" stroke="#333" stroke-width="0.6" />
<line x1="35.70" y1="357.12" x2="37.10" y2="357.12" stroke="#333" stroke-width="0.6" />
<line x1="35.70" y1="355.73" x2="37.10" y2="355.73" stroke="#333" stroke-width="0.6" />
<line x1="35.70" y1="354.50" x2="37.10" y2="354.50" stroke="#333" stroke-width="0.6" />
<line x1="35.70" y1="377.40" x2="37.70" y2="377.40" stroke="#333" stroke-width="0.8" />
<text x="34.10" y="381.43" font-size="9.8" text-anchor="end" fill="#3a3a3a" stroke="#3a3a3a" stroke-width="0.22">10<tspan font-size="6.2" dy="-3.7">-11</tspan></text>
<line x1="35.60" y1="377.40" x2="35.60" y2="375.40" stroke="#333" stroke-width="0.8" />
<text x="35.60" y="387.50" font-size="9.4" text-anchor="middle" fill="#3a3a3a" stroke="#3a3a3a" stroke-width="0.22" >0</text>
<line x1="64.70" y1="377.40" x2="64.70" y2="375.40" stroke="#333" stroke-width="0.8" />
<text x="64.70" y="387.50" font-size="9.4" text-anchor="middle" fill="#3a3a3a" stroke="#3a3a3a" stroke-width="0.22" >50</text>
<line x1="93.80" y1="377.40" x2="93.80" y2="375.40" stroke="#333" stroke-width="0.8" />
<text x="93.80" y="387.50" font-size="9.4" text-anchor="middle" fill="#3a3a3a" stroke="#3a3a3a" stroke-width="0.22" >100</text>
<line x1="122.90" y1="377.40" x2="122.90" y2="375.40" stroke="#333" stroke-width="0.8" />
<text x="122.90" y="387.50" font-size="9.4" text-anchor="middle" fill="#3a3a3a" stroke="#3a3a3a" stroke-width="0.22" >150</text>
<line x1="152.00" y1="377.40" x2="152.00" y2="375.40" stroke="#333" stroke-width="0.8" />
<text x="152.00" y="387.50" font-size="9.4" text-anchor="middle" fill="#3a3a3a" stroke="#3a3a3a" stroke-width="0.22" >200</text>
<line x1="181.10" y1="377.40" x2="181.10" y2="375.40" stroke="#333" stroke-width="0.8" />
<text x="181.10" y="387.50" font-size="9.4" text-anchor="middle" fill="#3a3a3a" stroke="#3a3a3a" stroke-width="0.22" >250</text>
<line x1="210.20" y1="377.40" x2="210.20" y2="375.40" stroke="#333" stroke-width="0.8" />
<text x="210.20" y="387.50" font-size="9.4" text-anchor="middle" fill="#3a3a3a" stroke="#3a3a3a" stroke-width="0.22" >300</text>
<line x1="50.15" y1="377.40" x2="50.15" y2="376.20" stroke="#333" stroke-width="0.6" />
<line x1="79.25" y1="377.40" x2="79.25" y2="376.20" stroke="#333" stroke-width="0.6" />
<line x1="108.35" y1="377.40" x2="108.35" y2="376.20" stroke="#333" stroke-width="0.6" />
<line x1="137.45" y1="377.40" x2="137.45" y2="376.20" stroke="#333" stroke-width="0.6" />
<line x1="166.55" y1="377.40" x2="166.55" y2="376.20" stroke="#333" stroke-width="0.6" />
<line x1="195.65" y1="377.40" x2="195.65" y2="376.20" stroke="#333" stroke-width="0.6" />
<text x="47.70" y="250.70" font-size="12.3" text-anchor="start" fill="#111" stroke="#111" stroke-width="0.22" ><tspan font-weight='normal'>@</tspan>150 °C</text>
<text x="80.20" y="277.10" font-size="12" text-anchor="start" fill="#111" stroke="#111" stroke-width="0.22" >Hopping</text>
<path d="M41.00,328.10 C42.00,326.82 44.15,322.70 47.00,320.40 C49.85,318.10 54.42,316.15 58.10,314.30 C61.78,312.45 64.45,311.23 69.10,309.30 C73.75,307.37 80.02,304.87 86.00,302.70 C91.98,300.53 98.33,298.48 105.00,296.30 C111.67,294.12 119.33,291.62 126.00,289.60 C132.67,287.58 138.83,285.92 145.00,284.20 C151.17,282.48 160.00,280.12 163.00,279.30" fill="none" stroke="#3c3c3c" stroke-width="1.4" stroke-linejoin="round" stroke-linecap="round" />
<rect x="38.60" y="332.70" width="5.0" height="5.0" fill="#5f5f5f"/>
<rect x="44.10" y="318.90" width="5.0" height="5.0" fill="#5f5f5f"/>
<rect x="50.10" y="313.70" width="5.0" height="5.0" fill="#5f5f5f"/>
<rect x="56.10" y="309.70" width="5.0" height="5.0" fill="#5f5f5f"/>
<rect x="62.00" y="307.00" width="5.0" height="5.0" fill="#5f5f5f"/>
<rect x="67.70" y="304.30" width="5.0" height="5.0" fill="#5f5f5f"/>
<rect x="79.00" y="299.40" width="5.0" height="5.0" fill="#5f5f5f"/>
<rect x="84.90" y="297.60" width="5.0" height="5.0" fill="#5f5f5f"/>
<rect x="90.90" y="295.50" width="5.0" height="5.0" fill="#5f5f5f"/>
<rect x="97.00" y="293.50" width="5.0" height="5.0" fill="#5f5f5f"/>
<rect x="102.50" y="291.60" width="5.0" height="5.0" fill="#5f5f5f"/>
<rect x="108.70" y="289.60" width="5.0" height="5.0" fill="#5f5f5f"/>
<rect x="114.40" y="288.00" width="5.0" height="5.0" fill="#5f5f5f"/>
<rect x="120.10" y="286.60" width="5.0" height="5.0" fill="#5f5f5f"/>
<rect x="126.10" y="284.90" width="5.0" height="5.0" fill="#5f5f5f"/>
<rect x="131.80" y="283.50" width="5.0" height="5.0" fill="#5f5f5f"/>
<rect x="137.40" y="282.50" width="5.0" height="5.0" fill="#5f5f5f"/>
<rect x="143.00" y="281.20" width="5.0" height="5.0" fill="#5f5f5f"/>
<rect x="148.90" y="279.90" width="5.0" height="5.0" fill="#5f5f5f"/>
<rect x="154.90" y="278.60" width="5.0" height="5.0" fill="#5f5f5f"/>
<rect x="160.60" y="276.10" width="5.0" height="5.0" fill="#5f5f5f"/>
<rect x="172.10" y="266.70" width="5.0" height="5.0" fill="#5f5f5f"/>
<rect x="177.90" y="262.90" width="5.0" height="5.0" fill="#5f5f5f"/>
<rect x="183.90" y="259.20" width="5.0" height="5.0" fill="#5f5f5f"/>
<rect x="189.60" y="256.90" width="5.0" height="5.0" fill="#5f5f5f"/>
<rect x="195.50" y="252.60" width="5.0" height="5.0" fill="#5f5f5f"/>
<rect x="206.70" y="248.90" width="5.0" height="5.0" fill="#5f5f5f"/>
<circle cx="47.00" cy="331.40" r="2.8" fill="url(#sph)"/>
<circle cx="53.10" cy="322.40" r="2.8" fill="url(#sph)"/>
<circle cx="59.20" cy="317.60" r="2.8" fill="url(#sph)"/>
<circle cx="63.40" cy="313.20" r="2.8" fill="url(#sph)"/>
<circle cx="68.80" cy="310.80" r="2.8" fill="url(#sph)"/>
<circle cx="74.80" cy="308.60" r="2.8" fill="url(#sph)"/>
<circle cx="80.90" cy="306.60" r="2.8" fill="url(#sph)"/>
<circle cx="87.10" cy="305.00" r="2.8" fill="url(#sph)"/>
<circle cx="93.20" cy="304.00" r="2.8" fill="url(#sph)"/>
<circle cx="99.30" cy="304.60" r="2.8" fill="url(#sph)"/>
<circle cx="104.90" cy="304.30" r="2.8" fill="url(#sph)"/>
<circle cx="116.20" cy="302.30" r="2.8" fill="url(#sph)"/>
<circle cx="122.40" cy="301.30" r="2.8" fill="url(#sph)"/>
<circle cx="128.20" cy="300.30" r="2.8" fill="url(#sph)"/>
<circle cx="134.20" cy="298.90" r="2.8" fill="url(#sph)"/>
<circle cx="139.80" cy="296.90" r="2.8" fill="url(#sph)"/>
<circle cx="145.50" cy="295.50" r="2.8" fill="url(#sph)"/>
<circle cx="151.40" cy="294.30" r="2.8" fill="url(#sph)"/>
<circle cx="157.10" cy="292.50" r="2.8" fill="url(#sph)"/>
<circle cx="163.00" cy="291.30" r="2.8" fill="url(#sph)"/>
<circle cx="168.70" cy="290.60" r="2.8" fill="url(#sph)"/>
<circle cx="174.40" cy="290.10" r="2.8" fill="url(#sph)"/>
<circle cx="180.40" cy="289.10" r="2.8" fill="url(#sph)"/>
<circle cx="186.40" cy="288.60" r="2.8" fill="url(#sph)"/>
<circle cx="192.00" cy="287.70" r="2.8" fill="url(#sph)"/>
<circle cx="198.00" cy="286.90" r="2.8" fill="url(#sph)"/>
<circle cx="203.60" cy="281.40" r="2.8" fill="url(#sph)"/>
<path d="M40.40,333.10 C41.13,332.08 43.15,328.75 44.80,327.00 C46.45,325.25 48.08,324.17 50.30,322.60 C52.52,321.03 54.97,319.07 58.10,317.60 C61.23,316.13 64.45,315.18 69.10,313.80 C73.75,312.42 80.08,310.75 86.00,309.30 C91.92,307.85 97.93,306.65 104.60,305.10 C111.27,303.55 118.43,301.75 126.00,300.00 C133.57,298.25 141.00,296.43 150.00,294.60 C159.00,292.77 171.00,290.57 180.00,289.00 C189.00,287.43 200.00,285.83 204.00,285.20" fill="none" stroke="#f51e45" stroke-width="1.9" stroke-linejoin="round" stroke-linecap="round" />
<text x="144.50" y="329.30" font-size="9.5" text-anchor="start" fill="#111" stroke="#111" stroke-width="0.22" textLength="26.2" lengthAdjust="spacingAndGlyphs">λ(nm)</text>
<text x="187.20" y="329.30" font-size="9.5" text-anchor="start" fill="#111" stroke="#111" stroke-width="0.22" >R<tspan font-size='7.0' dy='-3.4'>2</tspan></text>
<rect x="90.95" y="337.90" width="5.2" height="5.2" fill="#5f5f5f"/>
<circle cx="93.60" cy="352.30" r="3.1" fill="url(#sph)"/>
<text x="107.00" y="343.60" font-size="9.3" text-anchor="start" fill="#111" stroke="#111" stroke-width="0.22" >PEI</text>
<text x="146.60" y="343.60" font-size="9.3" text-anchor="start" fill="#111" stroke="#111" stroke-width="0.22" >1.212</text>
<text x="179.90" y="343.60" font-size="9.3" text-anchor="start" fill="#111" stroke="#111" stroke-width="0.22" >0.988</text>
<text x="107.00" y="356.00" font-size="9.3" text-anchor="start" fill="#111" stroke="#111" stroke-width="0.22" >TPEI</text>
<text x="145.40" y="356.00" font-size="9.3" text-anchor="start" fill="#111" stroke="#111" stroke-width="0.22" >0.712</text>
<text x="179.90" y="356.00" font-size="9.3" text-anchor="start" fill="#111" stroke="#111" stroke-width="0.22" >0.994</text>
<text transform="translate(12.6,391.0) rotate(-90)" font-size="12.2" fill="#111" stroke="#111" stroke-width="0.22">Leakage Current Density <tspan font-size="7.3">(</tspan>A/cm<tspan font-size="8.2" dy="-5.2">2</tspan><tspan font-size="7.3" dy="5.2">)</tspan></text>
<text x="68.90" y="404.60" font-size="12" text-anchor="start" fill="#111" stroke="#111" stroke-width="0.22" >Electric Field</text>
<text x="142.10" y="404.60" font-size="7.3" text-anchor="start" fill="#111" stroke="#111" stroke-width="0.22" >(</text>
<text x="145.30" y="404.60" font-size="12" text-anchor="start" fill="#111" stroke="#111" stroke-width="0.22" >MV/m</text>
<text x="179.00" y="404.60" font-size="7.3" text-anchor="start" fill="#111" stroke="#111" stroke-width="0.22" >)</text>
<rect x="271.70" y="233.30" width="179.50" height="144.20" fill="none" stroke="#333" stroke-width="1.3"/>
<line x1="271.70" y1="233.30" x2="273.70" y2="233.30" stroke="#333" stroke-width="0.8" />
<text x="270.10" y="237.33" font-size="9.8" text-anchor="end" fill="#3a3a3a" stroke="#3a3a3a" stroke-width="0.22">10<tspan font-size="6.2" dy="-3.7">-4</tspan></text>
<line x1="271.70" y1="247.70" x2="273.10" y2="247.70" stroke="#333" stroke-width="0.6" />
<line x1="271.70" y1="244.07" x2="273.10" y2="244.07" stroke="#333" stroke-width="0.6" />
<line x1="271.70" y1="241.50" x2="273.10" y2="241.50" stroke="#333" stroke-width="0.6" />
<line x1="271.70" y1="239.50" x2="273.10" y2="239.50" stroke="#333" stroke-width="0.6" />
<line x1="271.70" y1="237.87" x2="273.10" y2="237.87" stroke="#333" stroke-width="0.6" />
<line x1="271.70" y1="236.49" x2="273.10" y2="236.49" stroke="#333" stroke-width="0.6" />
<line x1="271.70" y1="235.30" x2="273.10" y2="235.30" stroke="#333" stroke-width="0.6" />
<line x1="271.70" y1="234.24" x2="273.10" y2="234.24" stroke="#333" stroke-width="0.6" />
<line x1="271.70" y1="253.90" x2="273.70" y2="253.90" stroke="#333" stroke-width="0.8" />
<text x="270.10" y="257.93" font-size="9.8" text-anchor="end" fill="#3a3a3a" stroke="#3a3a3a" stroke-width="0.22">10<tspan font-size="6.2" dy="-3.7">-5</tspan></text>
<line x1="271.70" y1="268.30" x2="273.10" y2="268.30" stroke="#333" stroke-width="0.6" />
<line x1="271.70" y1="264.67" x2="273.10" y2="264.67" stroke="#333" stroke-width="0.6" />
<line x1="271.70" y1="262.10" x2="273.10" y2="262.10" stroke="#333" stroke-width="0.6" />
<line x1="271.70" y1="260.10" x2="273.10" y2="260.10" stroke="#333" stroke-width="0.6" />
<line x1="271.70" y1="258.47" x2="273.10" y2="258.47" stroke="#333" stroke-width="0.6" />
<line x1="271.70" y1="257.09" x2="273.10" y2="257.09" stroke="#333" stroke-width="0.6" />
<line x1="271.70" y1="255.90" x2="273.10" y2="255.90" stroke="#333" stroke-width="0.6" />
<line x1="271.70" y1="254.84" x2="273.10" y2="254.84" stroke="#333" stroke-width="0.6" />
<line x1="271.70" y1="274.50" x2="273.70" y2="274.50" stroke="#333" stroke-width="0.8" />
<text x="270.10" y="278.53" font-size="9.8" text-anchor="end" fill="#3a3a3a" stroke="#3a3a3a" stroke-width="0.22">10<tspan font-size="6.2" dy="-3.7">-6</tspan></text>
<line x1="271.70" y1="288.90" x2="273.10" y2="288.90" stroke="#333" stroke-width="0.6" />
<line x1="271.70" y1="285.27" x2="273.10" y2="285.27" stroke="#333" stroke-width="0.6" />
<line x1="271.70" y1="282.70" x2="273.10" y2="282.70" stroke="#333" stroke-width="0.6" />
<line x1="271.70" y1="280.70" x2="273.10" y2="280.70" stroke="#333" stroke-width="0.6" />
<line x1="271.70" y1="279.07" x2="273.10" y2="279.07" stroke="#333" stroke-width="0.6" />
<line x1="271.70" y1="277.69" x2="273.10" y2="277.69" stroke="#333" stroke-width="0.6" />
<line x1="271.70" y1="276.50" x2="273.10" y2="276.50" stroke="#333" stroke-width="0.6" />
<line x1="271.70" y1="275.44" x2="273.10" y2="275.44" stroke="#333" stroke-width="0.6" />
<line x1="271.70" y1="295.10" x2="273.70" y2="295.10" stroke="#333" stroke-width="0.8" />
<text x="270.10" y="299.13" font-size="9.8" text-anchor="end" fill="#3a3a3a" stroke="#3a3a3a" stroke-width="0.22">10<tspan font-size="6.2" dy="-3.7">-7</tspan></text>
<line x1="271.70" y1="309.50" x2="273.10" y2="309.50" stroke="#333" stroke-width="0.6" />
<line x1="271.70" y1="305.87" x2="273.10" y2="305.87" stroke="#333" stroke-width="0.6" />
<line x1="271.70" y1="303.30" x2="273.10" y2="303.30" stroke="#333" stroke-width="0.6" />
<line x1="271.70" y1="301.30" x2="273.10" y2="301.30" stroke="#333" stroke-width="0.6" />
<line x1="271.70" y1="299.67" x2="273.10" y2="299.67" stroke="#333" stroke-width="0.6" />
<line x1="271.70" y1="298.29" x2="273.10" y2="298.29" stroke="#333" stroke-width="0.6" />
<line x1="271.70" y1="297.10" x2="273.10" y2="297.10" stroke="#333" stroke-width="0.6" />
<line x1="271.70" y1="296.04" x2="273.10" y2="296.04" stroke="#333" stroke-width="0.6" />
<line x1="271.70" y1="315.70" x2="273.70" y2="315.70" stroke="#333" stroke-width="0.8" />
<text x="270.10" y="319.73" font-size="9.8" text-anchor="end" fill="#3a3a3a" stroke="#3a3a3a" stroke-width="0.22">10<tspan font-size="6.2" dy="-3.7">-8</tspan></text>
<line x1="271.70" y1="330.10" x2="273.10" y2="330.10" stroke="#333" stroke-width="0.6" />
<line x1="271.70" y1="326.47" x2="273.10" y2="326.47" stroke="#333" stroke-width="0.6" />
<line x1="271.70" y1="323.90" x2="273.10" y2="323.90" stroke="#333" stroke-width="0.6" />
<line x1="271.70" y1="321.90" x2="273.10" y2="321.90" stroke="#333" stroke-width="0.6" />
<line x1="271.70" y1="320.27" x2="273.10" y2="320.27" stroke="#333" stroke-width="0.6" />
<line x1="271.70" y1="318.89" x2="273.10" y2="318.89" stroke="#333" stroke-width="0.6" />
<line x1="271.70" y1="317.70" x2="273.10" y2="317.70" stroke="#333" stroke-width="0.6" />
<line x1="271.70" y1="316.64" x2="273.10" y2="316.64" stroke="#333" stroke-width="0.6" />
<line x1="271.70" y1="336.30" x2="273.70" y2="336.30" stroke="#333" stroke-width="0.8" />
<text x="270.10" y="340.33" font-size="9.8" text-anchor="end" fill="#3a3a3a" stroke="#3a3a3a" stroke-width="0.22">10<tspan font-size="6.2" dy="-3.7">-9</tspan></text>
<line x1="271.70" y1="350.70" x2="273.10" y2="350.70" stroke="#333" stroke-width="0.6" />
<line x1="271.70" y1="347.07" x2="273.10" y2="347.07" stroke="#333" stroke-width="0.6" />
<line x1="271.70" y1="344.50" x2="273.10" y2="344.50" stroke="#333" stroke-width="0.6" />
<line x1="271.70" y1="342.50" x2="273.10" y2="342.50" stroke="#333" stroke-width="0.6" />
<line x1="271.70" y1="340.87" x2="273.10" y2="340.87" stroke="#333" stroke-width="0.6" />
<line x1="271.70" y1="339.49" x2="273.10" y2="339.49" stroke="#333" stroke-width="0.6" />
<line x1="271.70" y1="338.30" x2="273.10" y2="338.30" stroke="#333" stroke-width="0.6" />
<line x1="271.70" y1="337.24" x2="273.10" y2="337.24" stroke="#333" stroke-width="0.6" />
<line x1="271.70" y1="356.90" x2="273.70" y2="356.90" stroke="#333" stroke-width="0.8" />
<text x="270.10" y="360.93" font-size="9.8" text-anchor="end" fill="#3a3a3a" stroke="#3a3a3a" stroke-width="0.22">10<tspan font-size="6.2" dy="-3.7">-10</tspan></text>
<line x1="271.70" y1="371.30" x2="273.10" y2="371.30" stroke="#333" stroke-width="0.6" />
<line x1="271.70" y1="367.67" x2="273.10" y2="367.67" stroke="#333" stroke-width="0.6" />
<line x1="271.70" y1="365.10" x2="273.10" y2="365.10" stroke="#333" stroke-width="0.6" />
<line x1="271.70" y1="363.10" x2="273.10" y2="363.10" stroke="#333" stroke-width="0.6" />
<line x1="271.70" y1="361.47" x2="273.10" y2="361.47" stroke="#333" stroke-width="0.6" />
<line x1="271.70" y1="360.09" x2="273.10" y2="360.09" stroke="#333" stroke-width="0.6" />
<line x1="271.70" y1="358.90" x2="273.10" y2="358.90" stroke="#333" stroke-width="0.6" />
<line x1="271.70" y1="357.84" x2="273.10" y2="357.84" stroke="#333" stroke-width="0.6" />
<line x1="271.70" y1="377.50" x2="273.70" y2="377.50" stroke="#333" stroke-width="0.8" />
<text x="270.10" y="381.53" font-size="9.8" text-anchor="end" fill="#3a3a3a" stroke="#3a3a3a" stroke-width="0.22">10<tspan font-size="6.2" dy="-3.7">-11</tspan></text>
<line x1="276.70" y1="377.50" x2="276.70" y2="375.50" stroke="#333" stroke-width="0.8" />
<text x="276.70" y="387.50" font-size="9.4" text-anchor="middle" fill="#3a3a3a" stroke="#3a3a3a" stroke-width="0.22" >0</text>
<line x1="303.70" y1="377.50" x2="303.70" y2="375.50" stroke="#333" stroke-width="0.8" />
<text x="303.70" y="387.50" font-size="9.4" text-anchor="middle" fill="#3a3a3a" stroke="#3a3a3a" stroke-width="0.22" >50</text>
<line x1="330.70" y1="377.50" x2="330.70" y2="375.50" stroke="#333" stroke-width="0.8" />
<text x="330.70" y="387.50" font-size="9.4" text-anchor="middle" fill="#3a3a3a" stroke="#3a3a3a" stroke-width="0.22" >100</text>
<line x1="357.70" y1="377.50" x2="357.70" y2="375.50" stroke="#333" stroke-width="0.8" />
<text x="357.70" y="387.50" font-size="9.4" text-anchor="middle" fill="#3a3a3a" stroke="#3a3a3a" stroke-width="0.22" >150</text>
<line x1="384.70" y1="377.50" x2="384.70" y2="375.50" stroke="#333" stroke-width="0.8" />
<text x="384.70" y="387.50" font-size="9.4" text-anchor="middle" fill="#3a3a3a" stroke="#3a3a3a" stroke-width="0.22" >200</text>
<line x1="411.70" y1="377.50" x2="411.70" y2="375.50" stroke="#333" stroke-width="0.8" />
<text x="411.70" y="387.50" font-size="9.4" text-anchor="middle" fill="#3a3a3a" stroke="#3a3a3a" stroke-width="0.22" >250</text>
<line x1="438.70" y1="377.50" x2="438.70" y2="375.50" stroke="#333" stroke-width="0.8" />
<text x="438.70" y="387.50" font-size="9.4" text-anchor="middle" fill="#3a3a3a" stroke="#3a3a3a" stroke-width="0.22" >300</text>
<line x1="290.20" y1="377.50" x2="290.20" y2="376.30" stroke="#333" stroke-width="0.6" />
<line x1="317.20" y1="377.50" x2="317.20" y2="376.30" stroke="#333" stroke-width="0.6" />
<line x1="344.20" y1="377.50" x2="344.20" y2="376.30" stroke="#333" stroke-width="0.6" />
<line x1="371.20" y1="377.50" x2="371.20" y2="376.30" stroke="#333" stroke-width="0.6" />
<line x1="398.20" y1="377.50" x2="398.20" y2="376.30" stroke="#333" stroke-width="0.6" />
<line x1="425.20" y1="377.50" x2="425.20" y2="376.30" stroke="#333" stroke-width="0.6" />
<text x="283.50" y="250.70" font-size="12.3" text-anchor="start" fill="#111" stroke="#111" stroke-width="0.22" ><tspan font-weight='normal'>@</tspan>200 °C</text>
<text x="300.30" y="267.70" font-size="12" text-anchor="start" fill="#111" stroke="#111" stroke-width="0.22" >Hopping</text>
<path d="M281.40,306.60 C282.12,305.60 284.12,302.32 285.70,300.60 C287.28,298.88 288.90,297.68 290.90,296.30 C292.90,294.92 295.13,293.53 297.70,292.30 C300.27,291.07 302.27,290.32 306.30,288.90 C310.33,287.48 316.52,285.52 321.90,283.80 C327.28,282.08 332.95,280.32 338.60,278.60 C344.25,276.88 349.37,275.42 355.80,273.50 C362.23,271.58 370.78,269.02 377.20,267.10 C383.62,265.18 388.58,263.65 394.30,262.00 C400.02,260.35 405.22,258.82 411.50,257.20 C417.78,255.58 428.58,253.12 432.00,252.30" fill="none" stroke="#3c3c3c" stroke-width="1.4" stroke-linejoin="round" stroke-linecap="round" />
<path d="M281.40,331.50 C281.98,330.63 283.32,328.02 284.90,326.30 C286.48,324.58 288.48,322.77 290.90,321.20 C293.32,319.63 296.27,318.20 299.40,316.90 C302.53,315.60 305.95,314.55 309.70,313.40 C313.45,312.25 317.80,310.95 321.90,310.00 C326.00,309.05 329.45,308.95 334.30,307.70 C339.15,306.45 345.28,304.07 351.00,302.50 C356.72,300.93 362.93,299.68 368.60,298.30 C374.27,296.92 379.77,295.55 385.00,294.20 C390.23,292.85 394.17,291.65 400.00,290.20 C405.83,288.75 413.67,286.93 420.00,285.50 C426.33,284.07 435.00,282.25 438.00,281.60" fill="none" stroke="#f04a5a" stroke-width="1.3" stroke-linejoin="round" stroke-linecap="round" />
<rect x="279.50" y="314.90" width="5.0" height="5.0" fill="#5f5f5f"/>
<rect x="289.80" y="304.90" width="5.0" height="5.0" fill="#5f5f5f"/>
<rect x="295.80" y="301.20" width="5.0" height="5.0" fill="#5f5f5f"/>
<rect x="300.90" y="297.10" width="5.0" height="5.0" fill="#5f5f5f"/>
<rect x="306.60" y="293.10" width="5.0" height="5.0" fill="#5f5f5f"/>
<rect x="317.20" y="284.70" width="5.0" height="5.0" fill="#5f5f5f"/>
<rect x="322.40" y="283.40" width="5.0" height="5.0" fill="#5f5f5f"/>
<rect x="328.00" y="283.10" width="5.0" height="5.0" fill="#5f5f5f"/>
<rect x="333.20" y="278.10" width="5.0" height="5.0" fill="#5f5f5f"/>
<rect x="338.80" y="273.70" width="5.0" height="5.0" fill="#5f5f5f"/>
<rect x="344.20" y="272.10" width="5.0" height="5.0" fill="#5f5f5f"/>
<rect x="349.10" y="269.70" width="5.0" height="5.0" fill="#5f5f5f"/>
<rect x="359.90" y="265.80" width="5.0" height="5.0" fill="#5f5f5f"/>
<rect x="365.20" y="263.40" width="5.0" height="5.0" fill="#5f5f5f"/>
<rect x="370.70" y="261.20" width="5.0" height="5.0" fill="#5f5f5f"/>
<rect x="376.00" y="259.60" width="5.0" height="5.0" fill="#5f5f5f"/>
<rect x="381.40" y="258.80" width="5.0" height="5.0" fill="#5f5f5f"/>
<rect x="386.70" y="258.10" width="5.0" height="5.0" fill="#5f5f5f"/>
<rect x="392.70" y="256.80" width="5.0" height="5.0" fill="#5f5f5f"/>
<rect x="398.20" y="255.40" width="5.0" height="5.0" fill="#5f5f5f"/>
<rect x="403.50" y="254.60" width="5.0" height="5.0" fill="#5f5f5f"/>
<rect x="408.60" y="253.70" width="5.0" height="5.0" fill="#5f5f5f"/>
<rect x="414.10" y="252.80" width="5.0" height="5.0" fill="#5f5f5f"/>
<rect x="419.20" y="251.00" width="5.0" height="5.0" fill="#5f5f5f"/>
<rect x="424.40" y="250.80" width="5.0" height="5.0" fill="#5f5f5f"/>
<rect x="429.90" y="249.60" width="5.0" height="5.0" fill="#5f5f5f"/>
<circle cx="282.00" cy="342.60" r="2.8" fill="url(#sph)"/>
<circle cx="287.40" cy="330.60" r="2.8" fill="url(#sph)"/>
<circle cx="292.60" cy="326.00" r="2.8" fill="url(#sph)"/>
<circle cx="297.70" cy="322.90" r="2.8" fill="url(#sph)"/>
<circle cx="302.90" cy="320.80" r="2.8" fill="url(#sph)"/>
<circle cx="308.50" cy="318.60" r="2.8" fill="url(#sph)"/>
<circle cx="314.00" cy="316.00" r="2.8" fill="url(#sph)"/>
<circle cx="324.90" cy="312.00" r="2.8" fill="url(#sph)"/>
<circle cx="330.50" cy="309.10" r="2.8" fill="url(#sph)"/>
<circle cx="336.00" cy="307.40" r="2.8" fill="url(#sph)"/>
<circle cx="341.20" cy="305.20" r="2.8" fill="url(#sph)"/>
<circle cx="346.30" cy="302.90" r="2.8" fill="url(#sph)"/>
<circle cx="351.50" cy="301.70" r="2.8" fill="url(#sph)"/>
<circle cx="357.10" cy="300.50" r="2.8" fill="url(#sph)"/>
<circle cx="362.60" cy="299.20" r="2.8" fill="url(#sph)"/>
<circle cx="367.80" cy="297.40" r="2.8" fill="url(#sph)"/>
<circle cx="373.40" cy="296.60" r="2.8" fill="url(#sph)"/>
<circle cx="378.60" cy="295.40" r="2.8" fill="url(#sph)"/>
<circle cx="384.00" cy="294.00" r="2.8" fill="url(#sph)"/>
<circle cx="389.20" cy="292.80" r="2.8" fill="url(#sph)"/>
<circle cx="399.80" cy="289.80" r="2.8" fill="url(#sph)"/>
<circle cx="404.90" cy="288.80" r="2.8" fill="url(#sph)"/>
<circle cx="410.60" cy="287.60" r="2.8" fill="url(#sph)"/>
<circle cx="415.70" cy="286.20" r="2.8" fill="url(#sph)"/>
<circle cx="421.40" cy="285.00" r="2.8" fill="url(#sph)"/>
<circle cx="426.90" cy="284.20" r="2.8" fill="url(#sph)"/>
<circle cx="432.40" cy="283.30" r="2.8" fill="url(#sph)"/>
<circle cx="438.00" cy="281.60" r="2.8" fill="url(#sph)"/>
<text x="390.90" y="326.80" font-size="9.5" text-anchor="start" fill="#111" stroke="#111" stroke-width="0.22" textLength="26.2" lengthAdjust="spacingAndGlyphs">λ(nm)</text>
<text x="431.10" y="326.80" font-size="9.5" text-anchor="start" fill="#111" stroke="#111" stroke-width="0.22" >R<tspan font-size='7.0' dy='-3.4'>2</tspan></text>
<rect x="337.10" y="336.40" width="5.2" height="5.2" fill="#5f5f5f"/>
<circle cx="339.70" cy="350.50" r="3.1" fill="url(#sph)"/>
<text x="352.00" y="341.90" font-size="9.3" text-anchor="start" fill="#111" stroke="#111" stroke-width="0.22" >PEI</text>
<text x="391.60" y="341.90" font-size="9.3" text-anchor="start" fill="#111" stroke="#111" stroke-width="0.22" >1.436</text>
<text x="423.20" y="341.90" font-size="9.3" text-anchor="start" fill="#111" stroke="#111" stroke-width="0.22" >0.948</text>
<text x="352.00" y="354.10" font-size="9.3" text-anchor="start" fill="#111" stroke="#111" stroke-width="0.22" >TPEI</text>
<text x="391.60" y="354.10" font-size="9.3" text-anchor="start" fill="#111" stroke="#111" stroke-width="0.22" >1.170</text>
<text x="422.70" y="354.10" font-size="9.3" text-anchor="start" fill="#111" stroke="#111" stroke-width="0.22" >0.999</text>
<text transform="translate(247.2,391.0) rotate(-90)" font-size="12.2" fill="#111" stroke="#111" stroke-width="0.22">Leakage Current Density <tspan font-size="7.3">(</tspan>A/cm<tspan font-size="8.2" dy="-5.2">2</tspan><tspan font-size="7.3" dy="5.2">)</tspan></text>
<text x="304.90" y="404.60" font-size="12" text-anchor="start" fill="#111" stroke="#111" stroke-width="0.22" >Electric Field</text>
<text x="378.10" y="404.60" font-size="7.3" text-anchor="start" fill="#111" stroke="#111" stroke-width="0.22" >(</text>
<text x="381.30" y="404.60" font-size="12" text-anchor="start" fill="#111" stroke="#111" stroke-width="0.22" >MV/m</text>
<text x="415.00" y="404.60" font-size="7.3" text-anchor="start" fill="#111" stroke="#111" stroke-width="0.22" >)</text>
<rect x="504.30" y="233.70" width="179.10" height="143.60" fill="none" stroke="#333" stroke-width="1.3"/>
<line x1="504.30" y1="233.70" x2="506.30" y2="233.70" stroke="#333" stroke-width="0.8" />
<text x="501.80" y="237.93" font-size="9.8" text-anchor="end" fill="#3a3a3a" stroke="#3a3a3a" stroke-width="0.22">10<tspan font-size="6.2" dy="-3.7">-7</tspan></text>
<line x1="504.30" y1="244.85" x2="505.70" y2="244.85" stroke="#333" stroke-width="0.6" />
<line x1="504.30" y1="242.04" x2="505.70" y2="242.04" stroke="#333" stroke-width="0.6" />
<line x1="504.30" y1="240.05" x2="505.70" y2="240.05" stroke="#333" stroke-width="0.6" />
<line x1="504.30" y1="238.50" x2="505.70" y2="238.50" stroke="#333" stroke-width="0.6" />
<line x1="504.30" y1="237.24" x2="505.70" y2="237.24" stroke="#333" stroke-width="0.6" />
<line x1="504.30" y1="236.17" x2="505.70" y2="236.17" stroke="#333" stroke-width="0.6" />
<line x1="504.30" y1="235.25" x2="505.70" y2="235.25" stroke="#333" stroke-width="0.6" />
<line x1="504.30" y1="234.43" x2="505.70" y2="234.43" stroke="#333" stroke-width="0.6" />
<line x1="504.30" y1="249.66" x2="506.30" y2="249.66" stroke="#333" stroke-width="0.8" />
<text x="501.80" y="253.89" font-size="9.8" text-anchor="end" fill="#3a3a3a" stroke="#3a3a3a" stroke-width="0.22">10<tspan font-size="6.2" dy="-3.7">-8</tspan></text>
<line x1="504.30" y1="260.81" x2="505.70" y2="260.81" stroke="#333" stroke-width="0.6" />
<line x1="504.30" y1="258.00" x2="505.70" y2="258.00" stroke="#333" stroke-width="0.6" />
<line x1="504.30" y1="256.00" x2="505.70" y2="256.00" stroke="#333" stroke-width="0.6" />
<line x1="504.30" y1="254.46" x2="505.70" y2="254.46" stroke="#333" stroke-width="0.6" />
<line x1="504.30" y1="253.20" x2="505.70" y2="253.20" stroke="#333" stroke-width="0.6" />
<line x1="504.30" y1="252.13" x2="505.70" y2="252.13" stroke="#333" stroke-width="0.6" />
<line x1="504.30" y1="251.20" x2="505.70" y2="251.20" stroke="#333" stroke-width="0.6" />
<line x1="504.30" y1="250.39" x2="505.70" y2="250.39" stroke="#333" stroke-width="0.6" />
<line x1="504.30" y1="265.61" x2="506.30" y2="265.61" stroke="#333" stroke-width="0.8" />
<text x="501.80" y="269.85" font-size="9.8" text-anchor="end" fill="#3a3a3a" stroke="#3a3a3a" stroke-width="0.22">10<tspan font-size="6.2" dy="-3.7">-9</tspan></text>
<line x1="504.30" y1="276.76" x2="505.70" y2="276.76" stroke="#333" stroke-width="0.6" />
<line x1="504.30" y1="273.95" x2="505.70" y2="273.95" stroke="#333" stroke-width="0.6" />
<line x1="504.30" y1="271.96" x2="505.70" y2="271.96" stroke="#333" stroke-width="0.6" />
<line x1="504.30" y1="270.41" x2="505.70" y2="270.41" stroke="#333" stroke-width="0.6" />
<line x1="504.30" y1="269.15" x2="505.70" y2="269.15" stroke="#333" stroke-width="0.6" />
<line x1="504.30" y1="268.08" x2="505.70" y2="268.08" stroke="#333" stroke-width="0.6" />
<line x1="504.30" y1="267.16" x2="505.70" y2="267.16" stroke="#333" stroke-width="0.6" />
<line x1="504.30" y1="266.34" x2="505.70" y2="266.34" stroke="#333" stroke-width="0.6" />
<line x1="504.30" y1="281.57" x2="506.30" y2="281.57" stroke="#333" stroke-width="0.8" />
<text x="501.80" y="285.80" font-size="9.8" text-anchor="end" fill="#3a3a3a" stroke="#3a3a3a" stroke-width="0.22">10<tspan font-size="6.2" dy="-3.7">-10</tspan></text>
<line x1="504.30" y1="292.72" x2="505.70" y2="292.72" stroke="#333" stroke-width="0.6" />
<line x1="504.30" y1="289.91" x2="505.70" y2="289.91" stroke="#333" stroke-width="0.6" />
<line x1="504.30" y1="287.92" x2="505.70" y2="287.92" stroke="#333" stroke-width="0.6" />
<line x1="504.30" y1="286.37" x2="505.70" y2="286.37" stroke="#333" stroke-width="0.6" />
<line x1="504.30" y1="285.11" x2="505.70" y2="285.11" stroke="#333" stroke-width="0.6" />
<line x1="504.30" y1="284.04" x2="505.70" y2="284.04" stroke="#333" stroke-width="0.6" />
<line x1="504.30" y1="283.11" x2="505.70" y2="283.11" stroke="#333" stroke-width="0.6" />
<line x1="504.30" y1="282.30" x2="505.70" y2="282.30" stroke="#333" stroke-width="0.6" />
<line x1="504.30" y1="297.52" x2="506.30" y2="297.52" stroke="#333" stroke-width="0.8" />
<text x="501.80" y="301.76" font-size="9.8" text-anchor="end" fill="#3a3a3a" stroke="#3a3a3a" stroke-width="0.22">10<tspan font-size="6.2" dy="-3.7">-11</tspan></text>
<line x1="504.30" y1="308.67" x2="505.70" y2="308.67" stroke="#333" stroke-width="0.6" />
<line x1="504.30" y1="305.87" x2="505.70" y2="305.87" stroke="#333" stroke-width="0.6" />
<line x1="504.30" y1="303.87" x2="505.70" y2="303.87" stroke="#333" stroke-width="0.6" />
<line x1="504.30" y1="302.33" x2="505.70" y2="302.33" stroke="#333" stroke-width="0.6" />
<line x1="504.30" y1="301.06" x2="505.70" y2="301.06" stroke="#333" stroke-width="0.6" />
<line x1="504.30" y1="299.99" x2="505.70" y2="299.99" stroke="#333" stroke-width="0.6" />
<line x1="504.30" y1="299.07" x2="505.70" y2="299.07" stroke="#333" stroke-width="0.6" />
<line x1="504.30" y1="298.25" x2="505.70" y2="298.25" stroke="#333" stroke-width="0.6" />
<line x1="504.30" y1="313.48" x2="506.30" y2="313.48" stroke="#333" stroke-width="0.8" />
<text x="501.80" y="317.71" font-size="9.8" text-anchor="end" fill="#3a3a3a" stroke="#3a3a3a" stroke-width="0.22">10<tspan font-size="6.2" dy="-3.7">-12</tspan></text>
<line x1="504.30" y1="324.63" x2="505.70" y2="324.63" stroke="#333" stroke-width="0.6" />
<line x1="504.30" y1="321.82" x2="505.70" y2="321.82" stroke="#333" stroke-width="0.6" />
<line x1="504.30" y1="319.83" x2="505.70" y2="319.83" stroke="#333" stroke-width="0.6" />
<line x1="504.30" y1="318.28" x2="505.70" y2="318.28" stroke="#333" stroke-width="0.6" />
<line x1="504.30" y1="317.02" x2="505.70" y2="317.02" stroke="#333" stroke-width="0.6" />
<line x1="504.30" y1="315.95" x2="505.70" y2="315.95" stroke="#333" stroke-width="0.6" />
<line x1="504.30" y1="315.02" x2="505.70" y2="315.02" stroke="#333" stroke-width="0.6" />
<line x1="504.30" y1="314.21" x2="505.70" y2="314.21" stroke="#333" stroke-width="0.6" />
<line x1="504.30" y1="329.43" x2="506.30" y2="329.43" stroke="#333" stroke-width="0.8" />
<text x="501.80" y="333.67" font-size="9.8" text-anchor="end" fill="#3a3a3a" stroke="#3a3a3a" stroke-width="0.22">10<tspan font-size="6.2" dy="-3.7">-13</tspan></text>
<line x1="504.30" y1="340.59" x2="505.70" y2="340.59" stroke="#333" stroke-width="0.6" />
<line x1="504.30" y1="337.78" x2="505.70" y2="337.78" stroke="#333" stroke-width="0.6" />
<line x1="504.30" y1="335.78" x2="505.70" y2="335.78" stroke="#333" stroke-width="0.6" />
<line x1="504.30" y1="334.24" x2="505.70" y2="334.24" stroke="#333" stroke-width="0.6" />
<line x1="504.30" y1="332.97" x2="505.70" y2="332.97" stroke="#333" stroke-width="0.6" />
<line x1="504.30" y1="331.90" x2="505.70" y2="331.90" stroke="#333" stroke-width="0.6" />
<line x1="504.30" y1="330.98" x2="505.70" y2="330.98" stroke="#333" stroke-width="0.6" />
<line x1="504.30" y1="330.16" x2="505.70" y2="330.16" stroke="#333" stroke-width="0.6" />
<line x1="504.30" y1="345.39" x2="506.30" y2="345.39" stroke="#333" stroke-width="0.8" />
<text x="501.80" y="349.62" font-size="9.8" text-anchor="end" fill="#3a3a3a" stroke="#3a3a3a" stroke-width="0.22">10<tspan font-size="6.2" dy="-3.7">-14</tspan></text>
<line x1="504.30" y1="356.54" x2="505.70" y2="356.54" stroke="#333" stroke-width="0.6" />
<line x1="504.30" y1="353.73" x2="505.70" y2="353.73" stroke="#333" stroke-width="0.6" />
<line x1="504.30" y1="351.74" x2="505.70" y2="351.74" stroke="#333" stroke-width="0.6" />
<line x1="504.30" y1="350.19" x2="505.70" y2="350.19" stroke="#333" stroke-width="0.6" />
<line x1="504.30" y1="348.93" x2="505.70" y2="348.93" stroke="#333" stroke-width="0.6" />
<line x1="504.30" y1="347.86" x2="505.70" y2="347.86" stroke="#333" stroke-width="0.6" />
<line x1="504.30" y1="346.94" x2="505.70" y2="346.94" stroke="#333" stroke-width="0.6" />
<line x1="504.30" y1="346.12" x2="505.70" y2="346.12" stroke="#333" stroke-width="0.6" />
<line x1="504.30" y1="361.34" x2="506.30" y2="361.34" stroke="#333" stroke-width="0.8" />
<text x="501.80" y="365.58" font-size="9.8" text-anchor="end" fill="#3a3a3a" stroke="#3a3a3a" stroke-width="0.22">10<tspan font-size="6.2" dy="-3.7">-15</tspan></text>
<line x1="504.30" y1="372.50" x2="505.70" y2="372.50" stroke="#333" stroke-width="0.6" />
<line x1="504.30" y1="369.69" x2="505.70" y2="369.69" stroke="#333" stroke-width="0.6" />
<line x1="504.30" y1="367.69" x2="505.70" y2="367.69" stroke="#333" stroke-width="0.6" />
<line x1="504.30" y1="366.15" x2="505.70" y2="366.15" stroke="#333" stroke-width="0.6" />
<line x1="504.30" y1="364.88" x2="505.70" y2="364.88" stroke="#333" stroke-width="0.6" />
<line x1="504.30" y1="363.82" x2="505.70" y2="363.82" stroke="#333" stroke-width="0.6" />
<line x1="504.30" y1="362.89" x2="505.70" y2="362.89" stroke="#333" stroke-width="0.6" />
<line x1="504.30" y1="362.07" x2="505.70" y2="362.07" stroke="#333" stroke-width="0.6" />
<line x1="504.30" y1="377.30" x2="506.30" y2="377.30" stroke="#333" stroke-width="0.8" />
<text x="501.80" y="381.53" font-size="9.8" text-anchor="end" fill="#3a3a3a" stroke="#3a3a3a" stroke-width="0.22">10<tspan font-size="6.2" dy="-3.7">-16</tspan></text>
<line x1="522.30" y1="377.30" x2="522.30" y2="375.30" stroke="#333" stroke-width="0.8" />
<text x="522.30" y="387.40" font-size="9.5" text-anchor="middle" fill="#3a3a3a" stroke="#3a3a3a" stroke-width="0.22" >50</text>
<line x1="558.00" y1="377.30" x2="558.00" y2="375.30" stroke="#333" stroke-width="0.8" />
<text x="558.00" y="387.40" font-size="9.5" text-anchor="middle" fill="#3a3a3a" stroke="#3a3a3a" stroke-width="0.22" >100</text>
<line x1="593.60" y1="377.30" x2="593.60" y2="375.30" stroke="#333" stroke-width="0.8" />
<text x="593.60" y="387.40" font-size="9.5" text-anchor="middle" fill="#3a3a3a" stroke="#3a3a3a" stroke-width="0.22" >150</text>
<line x1="629.30" y1="377.30" x2="629.30" y2="375.30" stroke="#333" stroke-width="0.8" />
<text x="629.30" y="387.40" font-size="9.5" text-anchor="middle" fill="#3a3a3a" stroke="#3a3a3a" stroke-width="0.22" >200</text>
<line x1="665.00" y1="377.30" x2="665.00" y2="375.30" stroke="#333" stroke-width="0.8" />
<text x="665.00" y="387.40" font-size="9.5" text-anchor="middle" fill="#3a3a3a" stroke="#3a3a3a" stroke-width="0.22" >250</text>
<text x="594.30" y="404.60" font-size="12.3" text-anchor="middle" fill="#111" stroke="#111" stroke-width="0.22" >Temperature (°C)</text>
<text transform="translate(480.0,305.4) rotate(-90)" font-size="12" text-anchor="middle" fill="#111" stroke="#111" stroke-width="0.22">Conductivity (S/m)</text>
<rect x="508.47" y="352.30" width="5.0" height="25.00" fill="#f07c86"/>
<line x1="508.47" y1="352.30" x2="513.47" y2="352.30" stroke="#555" stroke-width="0.6" />
<rect x="514.12" y="345.80" width="5.0" height="31.50" fill="#999999"/>
<line x1="514.12" y1="345.80" x2="519.12" y2="345.80" stroke="#555" stroke-width="0.6" />
<rect x="519.77" y="351.90" width="5.0" height="25.40" fill="#9cbcf0"/>
<line x1="519.77" y1="351.90" x2="524.77" y2="351.90" stroke="#555" stroke-width="0.6" />
<rect x="525.42" y="333.30" width="5.0" height="44.00" fill="#9fe09f"/>
<line x1="525.42" y1="333.30" x2="530.42" y2="333.30" stroke="#555" stroke-width="0.6" />
<rect x="531.07" y="338.90" width="5.0" height="38.40" fill="#f4c28f"/>
<line x1="531.07" y1="338.90" x2="536.07" y2="338.90" stroke="#555" stroke-width="0.6" />
<line x1="533.57" y1="334.80" x2="533.57" y2="344.90" stroke="#333" stroke-width="0.6" />
<line x1="532.07" y1="334.80" x2="535.07" y2="334.80" stroke="#333" stroke-width="0.6" />
<line x1="532.07" y1="344.90" x2="535.07" y2="344.90" stroke="#333" stroke-width="0.6" />
<rect x="544.17" y="351.10" width="5.0" height="26.20" fill="#f07c86"/>
<line x1="544.17" y1="351.10" x2="549.17" y2="351.10" stroke="#555" stroke-width="0.6" />
<rect x="549.82" y="342.00" width="5.0" height="35.30" fill="#999999"/>
<line x1="549.82" y1="342.00" x2="554.82" y2="342.00" stroke="#555" stroke-width="0.6" />
<rect x="555.47" y="323.60" width="5.0" height="53.70" fill="#9cbcf0"/>
<line x1="555.47" y1="323.60" x2="560.47" y2="323.60" stroke="#555" stroke-width="0.6" />
<rect x="561.12" y="330.70" width="5.0" height="46.60" fill="#9fe09f"/>
<line x1="561.12" y1="330.70" x2="566.12" y2="330.70" stroke="#555" stroke-width="0.6" />
<rect x="566.77" y="324.10" width="5.0" height="53.20" fill="#f4c28f"/>
<line x1="566.77" y1="324.10" x2="571.77" y2="324.10" stroke="#555" stroke-width="0.6" />
<line x1="569.27" y1="319.20" x2="569.27" y2="330.20" stroke="#333" stroke-width="0.6" />
<line x1="567.77" y1="319.20" x2="570.77" y2="319.20" stroke="#333" stroke-width="0.6" />
<line x1="567.77" y1="330.20" x2="570.77" y2="330.20" stroke="#333" stroke-width="0.6" />
<rect x="579.77" y="345.00" width="5.0" height="32.30" fill="#f07c86"/>
<line x1="579.77" y1="345.00" x2="584.77" y2="345.00" stroke="#555" stroke-width="0.6" />
<rect x="585.42" y="326.10" width="5.0" height="51.20" fill="#999999"/>
<line x1="585.42" y1="326.10" x2="590.42" y2="326.10" stroke="#555" stroke-width="0.6" />
<rect x="591.07" y="307.00" width="5.0" height="70.30" fill="#9cbcf0"/>
<line x1="591.07" y1="307.00" x2="596.07" y2="307.00" stroke="#555" stroke-width="0.6" />
<rect x="596.73" y="307.00" width="5.0" height="70.30" fill="#9fe09f"/>
<line x1="596.73" y1="307.00" x2="601.73" y2="307.00" stroke="#555" stroke-width="0.6" />
<rect x="602.38" y="292.70" width="5.0" height="84.60" fill="#f4c28f"/>
<line x1="602.38" y1="292.70" x2="607.38" y2="292.70" stroke="#555" stroke-width="0.6" />
<line x1="604.88" y1="288.60" x2="604.88" y2="298.40" stroke="#333" stroke-width="0.6" />
<line x1="603.38" y1="288.60" x2="606.38" y2="288.60" stroke="#333" stroke-width="0.6" />
<line x1="603.38" y1="298.40" x2="606.38" y2="298.40" stroke="#333" stroke-width="0.6" />
<rect x="615.47" y="333.20" width="5.0" height="44.10" fill="#f07c86"/>
<line x1="615.47" y1="333.20" x2="620.47" y2="333.20" stroke="#555" stroke-width="0.6" />
<rect x="621.12" y="302.30" width="5.0" height="75.00" fill="#999999"/>
<line x1="621.12" y1="302.30" x2="626.12" y2="302.30" stroke="#555" stroke-width="0.6" />
<rect x="626.77" y="292.40" width="5.0" height="84.90" fill="#9cbcf0"/>
<line x1="626.77" y1="292.40" x2="631.77" y2="292.40" stroke="#555" stroke-width="0.6" />
<rect x="632.42" y="288.00" width="5.0" height="89.30" fill="#9fe09f"/>
<line x1="632.42" y1="288.00" x2="637.42" y2="288.00" stroke="#555" stroke-width="0.6" />
<rect x="638.07" y="287.30" width="5.0" height="90.00" fill="#f4c28f"/>
<line x1="638.07" y1="287.30" x2="643.07" y2="287.30" stroke="#555" stroke-width="0.6" />
<line x1="640.57" y1="282.80" x2="640.57" y2="294.80" stroke="#333" stroke-width="0.6" />
<line x1="639.07" y1="282.80" x2="642.07" y2="282.80" stroke="#333" stroke-width="0.6" />
<line x1="639.07" y1="294.80" x2="642.07" y2="294.80" stroke="#333" stroke-width="0.6" />
<rect x="651.17" y="318.80" width="5.0" height="58.50" fill="#f07c86"/>
<line x1="651.17" y1="318.80" x2="656.17" y2="318.80" stroke="#555" stroke-width="0.6" />
<rect x="656.82" y="280.40" width="5.0" height="96.90" fill="#999999"/>
<line x1="656.82" y1="280.40" x2="661.82" y2="280.40" stroke="#555" stroke-width="0.6" />
<rect x="662.47" y="277.00" width="5.0" height="100.30" fill="#9cbcf0"/>
<line x1="662.47" y1="277.00" x2="667.47" y2="277.00" stroke="#555" stroke-width="0.6" />
<rect x="668.12" y="269.50" width="5.0" height="107.80" fill="#9fe09f"/>
<line x1="668.12" y1="269.50" x2="673.12" y2="269.50" stroke="#555" stroke-width="0.6" />
<rect x="673.77" y="254.40" width="5.0" height="122.90" fill="#f4c28f"/>
<line x1="673.77" y1="254.40" x2="678.77" y2="254.40" stroke="#555" stroke-width="0.6" />
<line x1="676.27" y1="250.70" x2="676.27" y2="261.50" stroke="#333" stroke-width="0.6" />
<line x1="674.77" y1="250.70" x2="677.77" y2="250.70" stroke="#333" stroke-width="0.6" />
<line x1="674.77" y1="261.50" x2="677.77" y2="261.50" stroke="#333" stroke-width="0.6" />
<rect x="509.8" y="237.20" width="12" height="7.4" fill="#f07c86"/>
<text x="525.30" y="244.30" font-size="10.4" text-anchor="start" fill="#111" stroke="#111" stroke-width="0.22" >TPEI</text>
<rect x="509.8" y="250.37" width="12" height="7.4" fill="#999999"/>
<text x="525.30" y="257.47" font-size="10.4" text-anchor="start" fill="#111" stroke="#111" stroke-width="0.22" >PEI</text>
<rect x="509.8" y="263.54" width="12" height="7.4" fill="#9cbcf0"/>
<text x="525.30" y="270.64" font-size="10.4" text-anchor="start" fill="#111" stroke="#111" stroke-width="0.22" >FPE</text>
<rect x="509.8" y="276.71" width="12" height="7.4" fill="#9fe09f"/>
<text x="525.30" y="283.81" font-size="10.4" text-anchor="start" fill="#111" stroke="#111" stroke-width="0.22" >Kapton</text>
<rect x="509.8" y="289.88" width="12" height="7.4" fill="#f4c28f"/>
<text x="525.30" y="296.98" font-size="10.4" text-anchor="start" fill="#111" stroke="#111" stroke-width="0.22" >PEI-PSU</text>
</svg></body></html>
